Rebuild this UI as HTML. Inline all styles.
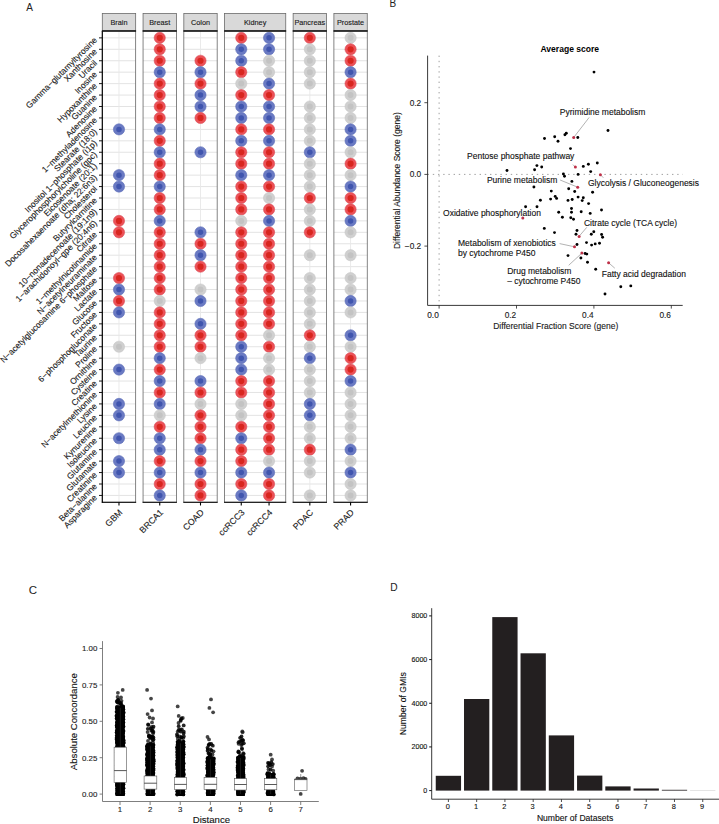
<!DOCTYPE html>
<html><head><meta charset="utf-8"><style>
html,body{margin:0;padding:0;background:#fff;width:719px;height:824px;overflow:hidden}
svg{display:block;font-family:"Liberation Sans", sans-serif}
</style></head><body>
<svg width="719" height="824" viewBox="0 0 719 824">
<rect width="719" height="824" fill="#fff"/>
<text x="26.30" y="10.80" font-size="10.0" text-anchor="start" font-weight="normal" fill="#222">A</text>
<text x="389.50" y="7.30" font-size="10.0" text-anchor="start" font-weight="normal" fill="#222">B</text>
<text x="28.80" y="593.80" font-size="11.5" text-anchor="start" font-weight="normal" fill="#222">C</text>
<text x="390.30" y="591.10" font-size="10.2" text-anchor="start" font-weight="normal" fill="#222">D</text>
<rect x="102.30" y="13.5" width="33.36" height="17.50" fill="#d9d9d9" stroke="#6a6a6a" stroke-width="0.8"/>
<text x="118.98" y="25.20" font-size="7.3" text-anchor="middle" font-weight="normal" fill="#1a1a1a" stroke="#1a1a1a" stroke-width="0.12">Brain</text>
<rect x="102.30" y="31.0" width="33.36" height="471.30" fill="#fff"/>
<line x1="102.30" y1="37.86" x2="135.66" y2="37.86" stroke="#e0e0e0" stroke-width="0.9"/>
<line x1="102.30" y1="49.30" x2="135.66" y2="49.30" stroke="#e0e0e0" stroke-width="0.9"/>
<line x1="102.30" y1="60.74" x2="135.66" y2="60.74" stroke="#e0e0e0" stroke-width="0.9"/>
<line x1="102.30" y1="72.18" x2="135.66" y2="72.18" stroke="#e0e0e0" stroke-width="0.9"/>
<line x1="102.30" y1="83.62" x2="135.66" y2="83.62" stroke="#e0e0e0" stroke-width="0.9"/>
<line x1="102.30" y1="95.06" x2="135.66" y2="95.06" stroke="#e0e0e0" stroke-width="0.9"/>
<line x1="102.30" y1="106.50" x2="135.66" y2="106.50" stroke="#e0e0e0" stroke-width="0.9"/>
<line x1="102.30" y1="117.94" x2="135.66" y2="117.94" stroke="#e0e0e0" stroke-width="0.9"/>
<line x1="102.30" y1="129.38" x2="135.66" y2="129.38" stroke="#e0e0e0" stroke-width="0.9"/>
<line x1="102.30" y1="140.82" x2="135.66" y2="140.82" stroke="#e0e0e0" stroke-width="0.9"/>
<line x1="102.30" y1="152.26" x2="135.66" y2="152.26" stroke="#e0e0e0" stroke-width="0.9"/>
<line x1="102.30" y1="163.70" x2="135.66" y2="163.70" stroke="#e0e0e0" stroke-width="0.9"/>
<line x1="102.30" y1="175.14" x2="135.66" y2="175.14" stroke="#e0e0e0" stroke-width="0.9"/>
<line x1="102.30" y1="186.57" x2="135.66" y2="186.57" stroke="#e0e0e0" stroke-width="0.9"/>
<line x1="102.30" y1="198.01" x2="135.66" y2="198.01" stroke="#e0e0e0" stroke-width="0.9"/>
<line x1="102.30" y1="209.45" x2="135.66" y2="209.45" stroke="#e0e0e0" stroke-width="0.9"/>
<line x1="102.30" y1="220.89" x2="135.66" y2="220.89" stroke="#e0e0e0" stroke-width="0.9"/>
<line x1="102.30" y1="232.33" x2="135.66" y2="232.33" stroke="#e0e0e0" stroke-width="0.9"/>
<line x1="102.30" y1="243.77" x2="135.66" y2="243.77" stroke="#e0e0e0" stroke-width="0.9"/>
<line x1="102.30" y1="255.21" x2="135.66" y2="255.21" stroke="#e0e0e0" stroke-width="0.9"/>
<line x1="102.30" y1="266.65" x2="135.66" y2="266.65" stroke="#e0e0e0" stroke-width="0.9"/>
<line x1="102.30" y1="278.09" x2="135.66" y2="278.09" stroke="#e0e0e0" stroke-width="0.9"/>
<line x1="102.30" y1="289.53" x2="135.66" y2="289.53" stroke="#e0e0e0" stroke-width="0.9"/>
<line x1="102.30" y1="300.97" x2="135.66" y2="300.97" stroke="#e0e0e0" stroke-width="0.9"/>
<line x1="102.30" y1="312.41" x2="135.66" y2="312.41" stroke="#e0e0e0" stroke-width="0.9"/>
<line x1="102.30" y1="323.85" x2="135.66" y2="323.85" stroke="#e0e0e0" stroke-width="0.9"/>
<line x1="102.30" y1="335.29" x2="135.66" y2="335.29" stroke="#e0e0e0" stroke-width="0.9"/>
<line x1="102.30" y1="346.73" x2="135.66" y2="346.73" stroke="#e0e0e0" stroke-width="0.9"/>
<line x1="102.30" y1="358.16" x2="135.66" y2="358.16" stroke="#e0e0e0" stroke-width="0.9"/>
<line x1="102.30" y1="369.60" x2="135.66" y2="369.60" stroke="#e0e0e0" stroke-width="0.9"/>
<line x1="102.30" y1="381.04" x2="135.66" y2="381.04" stroke="#e0e0e0" stroke-width="0.9"/>
<line x1="102.30" y1="392.48" x2="135.66" y2="392.48" stroke="#e0e0e0" stroke-width="0.9"/>
<line x1="102.30" y1="403.92" x2="135.66" y2="403.92" stroke="#e0e0e0" stroke-width="0.9"/>
<line x1="102.30" y1="415.36" x2="135.66" y2="415.36" stroke="#e0e0e0" stroke-width="0.9"/>
<line x1="102.30" y1="426.80" x2="135.66" y2="426.80" stroke="#e0e0e0" stroke-width="0.9"/>
<line x1="102.30" y1="438.24" x2="135.66" y2="438.24" stroke="#e0e0e0" stroke-width="0.9"/>
<line x1="102.30" y1="449.68" x2="135.66" y2="449.68" stroke="#e0e0e0" stroke-width="0.9"/>
<line x1="102.30" y1="461.12" x2="135.66" y2="461.12" stroke="#e0e0e0" stroke-width="0.9"/>
<line x1="102.30" y1="472.56" x2="135.66" y2="472.56" stroke="#e0e0e0" stroke-width="0.9"/>
<line x1="102.30" y1="484.00" x2="135.66" y2="484.00" stroke="#e0e0e0" stroke-width="0.9"/>
<line x1="102.30" y1="495.44" x2="135.66" y2="495.44" stroke="#e0e0e0" stroke-width="0.9"/>
<line x1="118.98" y1="31.0" x2="118.98" y2="502.3" stroke="#e8e8e8" stroke-width="0.9"/>
<rect x="143.06" y="13.5" width="33.36" height="17.50" fill="#d9d9d9" stroke="#6a6a6a" stroke-width="0.8"/>
<text x="159.74" y="25.20" font-size="7.3" text-anchor="middle" font-weight="normal" fill="#1a1a1a" stroke="#1a1a1a" stroke-width="0.12">Breast</text>
<rect x="143.06" y="31.0" width="33.36" height="471.30" fill="#fff"/>
<line x1="143.06" y1="37.86" x2="176.42" y2="37.86" stroke="#e0e0e0" stroke-width="0.9"/>
<line x1="143.06" y1="49.30" x2="176.42" y2="49.30" stroke="#e0e0e0" stroke-width="0.9"/>
<line x1="143.06" y1="60.74" x2="176.42" y2="60.74" stroke="#e0e0e0" stroke-width="0.9"/>
<line x1="143.06" y1="72.18" x2="176.42" y2="72.18" stroke="#e0e0e0" stroke-width="0.9"/>
<line x1="143.06" y1="83.62" x2="176.42" y2="83.62" stroke="#e0e0e0" stroke-width="0.9"/>
<line x1="143.06" y1="95.06" x2="176.42" y2="95.06" stroke="#e0e0e0" stroke-width="0.9"/>
<line x1="143.06" y1="106.50" x2="176.42" y2="106.50" stroke="#e0e0e0" stroke-width="0.9"/>
<line x1="143.06" y1="117.94" x2="176.42" y2="117.94" stroke="#e0e0e0" stroke-width="0.9"/>
<line x1="143.06" y1="129.38" x2="176.42" y2="129.38" stroke="#e0e0e0" stroke-width="0.9"/>
<line x1="143.06" y1="140.82" x2="176.42" y2="140.82" stroke="#e0e0e0" stroke-width="0.9"/>
<line x1="143.06" y1="152.26" x2="176.42" y2="152.26" stroke="#e0e0e0" stroke-width="0.9"/>
<line x1="143.06" y1="163.70" x2="176.42" y2="163.70" stroke="#e0e0e0" stroke-width="0.9"/>
<line x1="143.06" y1="175.14" x2="176.42" y2="175.14" stroke="#e0e0e0" stroke-width="0.9"/>
<line x1="143.06" y1="186.57" x2="176.42" y2="186.57" stroke="#e0e0e0" stroke-width="0.9"/>
<line x1="143.06" y1="198.01" x2="176.42" y2="198.01" stroke="#e0e0e0" stroke-width="0.9"/>
<line x1="143.06" y1="209.45" x2="176.42" y2="209.45" stroke="#e0e0e0" stroke-width="0.9"/>
<line x1="143.06" y1="220.89" x2="176.42" y2="220.89" stroke="#e0e0e0" stroke-width="0.9"/>
<line x1="143.06" y1="232.33" x2="176.42" y2="232.33" stroke="#e0e0e0" stroke-width="0.9"/>
<line x1="143.06" y1="243.77" x2="176.42" y2="243.77" stroke="#e0e0e0" stroke-width="0.9"/>
<line x1="143.06" y1="255.21" x2="176.42" y2="255.21" stroke="#e0e0e0" stroke-width="0.9"/>
<line x1="143.06" y1="266.65" x2="176.42" y2="266.65" stroke="#e0e0e0" stroke-width="0.9"/>
<line x1="143.06" y1="278.09" x2="176.42" y2="278.09" stroke="#e0e0e0" stroke-width="0.9"/>
<line x1="143.06" y1="289.53" x2="176.42" y2="289.53" stroke="#e0e0e0" stroke-width="0.9"/>
<line x1="143.06" y1="300.97" x2="176.42" y2="300.97" stroke="#e0e0e0" stroke-width="0.9"/>
<line x1="143.06" y1="312.41" x2="176.42" y2="312.41" stroke="#e0e0e0" stroke-width="0.9"/>
<line x1="143.06" y1="323.85" x2="176.42" y2="323.85" stroke="#e0e0e0" stroke-width="0.9"/>
<line x1="143.06" y1="335.29" x2="176.42" y2="335.29" stroke="#e0e0e0" stroke-width="0.9"/>
<line x1="143.06" y1="346.73" x2="176.42" y2="346.73" stroke="#e0e0e0" stroke-width="0.9"/>
<line x1="143.06" y1="358.16" x2="176.42" y2="358.16" stroke="#e0e0e0" stroke-width="0.9"/>
<line x1="143.06" y1="369.60" x2="176.42" y2="369.60" stroke="#e0e0e0" stroke-width="0.9"/>
<line x1="143.06" y1="381.04" x2="176.42" y2="381.04" stroke="#e0e0e0" stroke-width="0.9"/>
<line x1="143.06" y1="392.48" x2="176.42" y2="392.48" stroke="#e0e0e0" stroke-width="0.9"/>
<line x1="143.06" y1="403.92" x2="176.42" y2="403.92" stroke="#e0e0e0" stroke-width="0.9"/>
<line x1="143.06" y1="415.36" x2="176.42" y2="415.36" stroke="#e0e0e0" stroke-width="0.9"/>
<line x1="143.06" y1="426.80" x2="176.42" y2="426.80" stroke="#e0e0e0" stroke-width="0.9"/>
<line x1="143.06" y1="438.24" x2="176.42" y2="438.24" stroke="#e0e0e0" stroke-width="0.9"/>
<line x1="143.06" y1="449.68" x2="176.42" y2="449.68" stroke="#e0e0e0" stroke-width="0.9"/>
<line x1="143.06" y1="461.12" x2="176.42" y2="461.12" stroke="#e0e0e0" stroke-width="0.9"/>
<line x1="143.06" y1="472.56" x2="176.42" y2="472.56" stroke="#e0e0e0" stroke-width="0.9"/>
<line x1="143.06" y1="484.00" x2="176.42" y2="484.00" stroke="#e0e0e0" stroke-width="0.9"/>
<line x1="143.06" y1="495.44" x2="176.42" y2="495.44" stroke="#e0e0e0" stroke-width="0.9"/>
<line x1="159.74" y1="31.0" x2="159.74" y2="502.3" stroke="#e8e8e8" stroke-width="0.9"/>
<rect x="183.82" y="13.5" width="33.36" height="17.50" fill="#d9d9d9" stroke="#6a6a6a" stroke-width="0.8"/>
<text x="200.50" y="25.20" font-size="7.3" text-anchor="middle" font-weight="normal" fill="#1a1a1a" stroke="#1a1a1a" stroke-width="0.12">Colon</text>
<rect x="183.82" y="31.0" width="33.36" height="471.30" fill="#fff"/>
<line x1="183.82" y1="37.86" x2="217.18" y2="37.86" stroke="#e0e0e0" stroke-width="0.9"/>
<line x1="183.82" y1="49.30" x2="217.18" y2="49.30" stroke="#e0e0e0" stroke-width="0.9"/>
<line x1="183.82" y1="60.74" x2="217.18" y2="60.74" stroke="#e0e0e0" stroke-width="0.9"/>
<line x1="183.82" y1="72.18" x2="217.18" y2="72.18" stroke="#e0e0e0" stroke-width="0.9"/>
<line x1="183.82" y1="83.62" x2="217.18" y2="83.62" stroke="#e0e0e0" stroke-width="0.9"/>
<line x1="183.82" y1="95.06" x2="217.18" y2="95.06" stroke="#e0e0e0" stroke-width="0.9"/>
<line x1="183.82" y1="106.50" x2="217.18" y2="106.50" stroke="#e0e0e0" stroke-width="0.9"/>
<line x1="183.82" y1="117.94" x2="217.18" y2="117.94" stroke="#e0e0e0" stroke-width="0.9"/>
<line x1="183.82" y1="129.38" x2="217.18" y2="129.38" stroke="#e0e0e0" stroke-width="0.9"/>
<line x1="183.82" y1="140.82" x2="217.18" y2="140.82" stroke="#e0e0e0" stroke-width="0.9"/>
<line x1="183.82" y1="152.26" x2="217.18" y2="152.26" stroke="#e0e0e0" stroke-width="0.9"/>
<line x1="183.82" y1="163.70" x2="217.18" y2="163.70" stroke="#e0e0e0" stroke-width="0.9"/>
<line x1="183.82" y1="175.14" x2="217.18" y2="175.14" stroke="#e0e0e0" stroke-width="0.9"/>
<line x1="183.82" y1="186.57" x2="217.18" y2="186.57" stroke="#e0e0e0" stroke-width="0.9"/>
<line x1="183.82" y1="198.01" x2="217.18" y2="198.01" stroke="#e0e0e0" stroke-width="0.9"/>
<line x1="183.82" y1="209.45" x2="217.18" y2="209.45" stroke="#e0e0e0" stroke-width="0.9"/>
<line x1="183.82" y1="220.89" x2="217.18" y2="220.89" stroke="#e0e0e0" stroke-width="0.9"/>
<line x1="183.82" y1="232.33" x2="217.18" y2="232.33" stroke="#e0e0e0" stroke-width="0.9"/>
<line x1="183.82" y1="243.77" x2="217.18" y2="243.77" stroke="#e0e0e0" stroke-width="0.9"/>
<line x1="183.82" y1="255.21" x2="217.18" y2="255.21" stroke="#e0e0e0" stroke-width="0.9"/>
<line x1="183.82" y1="266.65" x2="217.18" y2="266.65" stroke="#e0e0e0" stroke-width="0.9"/>
<line x1="183.82" y1="278.09" x2="217.18" y2="278.09" stroke="#e0e0e0" stroke-width="0.9"/>
<line x1="183.82" y1="289.53" x2="217.18" y2="289.53" stroke="#e0e0e0" stroke-width="0.9"/>
<line x1="183.82" y1="300.97" x2="217.18" y2="300.97" stroke="#e0e0e0" stroke-width="0.9"/>
<line x1="183.82" y1="312.41" x2="217.18" y2="312.41" stroke="#e0e0e0" stroke-width="0.9"/>
<line x1="183.82" y1="323.85" x2="217.18" y2="323.85" stroke="#e0e0e0" stroke-width="0.9"/>
<line x1="183.82" y1="335.29" x2="217.18" y2="335.29" stroke="#e0e0e0" stroke-width="0.9"/>
<line x1="183.82" y1="346.73" x2="217.18" y2="346.73" stroke="#e0e0e0" stroke-width="0.9"/>
<line x1="183.82" y1="358.16" x2="217.18" y2="358.16" stroke="#e0e0e0" stroke-width="0.9"/>
<line x1="183.82" y1="369.60" x2="217.18" y2="369.60" stroke="#e0e0e0" stroke-width="0.9"/>
<line x1="183.82" y1="381.04" x2="217.18" y2="381.04" stroke="#e0e0e0" stroke-width="0.9"/>
<line x1="183.82" y1="392.48" x2="217.18" y2="392.48" stroke="#e0e0e0" stroke-width="0.9"/>
<line x1="183.82" y1="403.92" x2="217.18" y2="403.92" stroke="#e0e0e0" stroke-width="0.9"/>
<line x1="183.82" y1="415.36" x2="217.18" y2="415.36" stroke="#e0e0e0" stroke-width="0.9"/>
<line x1="183.82" y1="426.80" x2="217.18" y2="426.80" stroke="#e0e0e0" stroke-width="0.9"/>
<line x1="183.82" y1="438.24" x2="217.18" y2="438.24" stroke="#e0e0e0" stroke-width="0.9"/>
<line x1="183.82" y1="449.68" x2="217.18" y2="449.68" stroke="#e0e0e0" stroke-width="0.9"/>
<line x1="183.82" y1="461.12" x2="217.18" y2="461.12" stroke="#e0e0e0" stroke-width="0.9"/>
<line x1="183.82" y1="472.56" x2="217.18" y2="472.56" stroke="#e0e0e0" stroke-width="0.9"/>
<line x1="183.82" y1="484.00" x2="217.18" y2="484.00" stroke="#e0e0e0" stroke-width="0.9"/>
<line x1="183.82" y1="495.44" x2="217.18" y2="495.44" stroke="#e0e0e0" stroke-width="0.9"/>
<line x1="200.50" y1="31.0" x2="200.50" y2="502.3" stroke="#e8e8e8" stroke-width="0.9"/>
<rect x="224.58" y="13.5" width="61.16" height="17.50" fill="#d9d9d9" stroke="#6a6a6a" stroke-width="0.8"/>
<text x="255.16" y="25.20" font-size="7.3" text-anchor="middle" font-weight="normal" fill="#1a1a1a" stroke="#1a1a1a" stroke-width="0.12">Kidney</text>
<rect x="224.58" y="31.0" width="61.16" height="471.30" fill="#fff"/>
<line x1="224.58" y1="37.86" x2="285.74" y2="37.86" stroke="#e0e0e0" stroke-width="0.9"/>
<line x1="224.58" y1="49.30" x2="285.74" y2="49.30" stroke="#e0e0e0" stroke-width="0.9"/>
<line x1="224.58" y1="60.74" x2="285.74" y2="60.74" stroke="#e0e0e0" stroke-width="0.9"/>
<line x1="224.58" y1="72.18" x2="285.74" y2="72.18" stroke="#e0e0e0" stroke-width="0.9"/>
<line x1="224.58" y1="83.62" x2="285.74" y2="83.62" stroke="#e0e0e0" stroke-width="0.9"/>
<line x1="224.58" y1="95.06" x2="285.74" y2="95.06" stroke="#e0e0e0" stroke-width="0.9"/>
<line x1="224.58" y1="106.50" x2="285.74" y2="106.50" stroke="#e0e0e0" stroke-width="0.9"/>
<line x1="224.58" y1="117.94" x2="285.74" y2="117.94" stroke="#e0e0e0" stroke-width="0.9"/>
<line x1="224.58" y1="129.38" x2="285.74" y2="129.38" stroke="#e0e0e0" stroke-width="0.9"/>
<line x1="224.58" y1="140.82" x2="285.74" y2="140.82" stroke="#e0e0e0" stroke-width="0.9"/>
<line x1="224.58" y1="152.26" x2="285.74" y2="152.26" stroke="#e0e0e0" stroke-width="0.9"/>
<line x1="224.58" y1="163.70" x2="285.74" y2="163.70" stroke="#e0e0e0" stroke-width="0.9"/>
<line x1="224.58" y1="175.14" x2="285.74" y2="175.14" stroke="#e0e0e0" stroke-width="0.9"/>
<line x1="224.58" y1="186.57" x2="285.74" y2="186.57" stroke="#e0e0e0" stroke-width="0.9"/>
<line x1="224.58" y1="198.01" x2="285.74" y2="198.01" stroke="#e0e0e0" stroke-width="0.9"/>
<line x1="224.58" y1="209.45" x2="285.74" y2="209.45" stroke="#e0e0e0" stroke-width="0.9"/>
<line x1="224.58" y1="220.89" x2="285.74" y2="220.89" stroke="#e0e0e0" stroke-width="0.9"/>
<line x1="224.58" y1="232.33" x2="285.74" y2="232.33" stroke="#e0e0e0" stroke-width="0.9"/>
<line x1="224.58" y1="243.77" x2="285.74" y2="243.77" stroke="#e0e0e0" stroke-width="0.9"/>
<line x1="224.58" y1="255.21" x2="285.74" y2="255.21" stroke="#e0e0e0" stroke-width="0.9"/>
<line x1="224.58" y1="266.65" x2="285.74" y2="266.65" stroke="#e0e0e0" stroke-width="0.9"/>
<line x1="224.58" y1="278.09" x2="285.74" y2="278.09" stroke="#e0e0e0" stroke-width="0.9"/>
<line x1="224.58" y1="289.53" x2="285.74" y2="289.53" stroke="#e0e0e0" stroke-width="0.9"/>
<line x1="224.58" y1="300.97" x2="285.74" y2="300.97" stroke="#e0e0e0" stroke-width="0.9"/>
<line x1="224.58" y1="312.41" x2="285.74" y2="312.41" stroke="#e0e0e0" stroke-width="0.9"/>
<line x1="224.58" y1="323.85" x2="285.74" y2="323.85" stroke="#e0e0e0" stroke-width="0.9"/>
<line x1="224.58" y1="335.29" x2="285.74" y2="335.29" stroke="#e0e0e0" stroke-width="0.9"/>
<line x1="224.58" y1="346.73" x2="285.74" y2="346.73" stroke="#e0e0e0" stroke-width="0.9"/>
<line x1="224.58" y1="358.16" x2="285.74" y2="358.16" stroke="#e0e0e0" stroke-width="0.9"/>
<line x1="224.58" y1="369.60" x2="285.74" y2="369.60" stroke="#e0e0e0" stroke-width="0.9"/>
<line x1="224.58" y1="381.04" x2="285.74" y2="381.04" stroke="#e0e0e0" stroke-width="0.9"/>
<line x1="224.58" y1="392.48" x2="285.74" y2="392.48" stroke="#e0e0e0" stroke-width="0.9"/>
<line x1="224.58" y1="403.92" x2="285.74" y2="403.92" stroke="#e0e0e0" stroke-width="0.9"/>
<line x1="224.58" y1="415.36" x2="285.74" y2="415.36" stroke="#e0e0e0" stroke-width="0.9"/>
<line x1="224.58" y1="426.80" x2="285.74" y2="426.80" stroke="#e0e0e0" stroke-width="0.9"/>
<line x1="224.58" y1="438.24" x2="285.74" y2="438.24" stroke="#e0e0e0" stroke-width="0.9"/>
<line x1="224.58" y1="449.68" x2="285.74" y2="449.68" stroke="#e0e0e0" stroke-width="0.9"/>
<line x1="224.58" y1="461.12" x2="285.74" y2="461.12" stroke="#e0e0e0" stroke-width="0.9"/>
<line x1="224.58" y1="472.56" x2="285.74" y2="472.56" stroke="#e0e0e0" stroke-width="0.9"/>
<line x1="224.58" y1="484.00" x2="285.74" y2="484.00" stroke="#e0e0e0" stroke-width="0.9"/>
<line x1="224.58" y1="495.44" x2="285.74" y2="495.44" stroke="#e0e0e0" stroke-width="0.9"/>
<line x1="241.26" y1="31.0" x2="241.26" y2="502.3" stroke="#e8e8e8" stroke-width="0.9"/>
<line x1="269.06" y1="31.0" x2="269.06" y2="502.3" stroke="#e8e8e8" stroke-width="0.9"/>
<rect x="293.14" y="13.5" width="33.36" height="17.50" fill="#d9d9d9" stroke="#6a6a6a" stroke-width="0.8"/>
<text x="309.82" y="25.20" font-size="7.3" text-anchor="middle" font-weight="normal" fill="#1a1a1a" stroke="#1a1a1a" stroke-width="0.12">Pancreas</text>
<rect x="293.14" y="31.0" width="33.36" height="471.30" fill="#fff"/>
<line x1="293.14" y1="37.86" x2="326.50" y2="37.86" stroke="#e0e0e0" stroke-width="0.9"/>
<line x1="293.14" y1="49.30" x2="326.50" y2="49.30" stroke="#e0e0e0" stroke-width="0.9"/>
<line x1="293.14" y1="60.74" x2="326.50" y2="60.74" stroke="#e0e0e0" stroke-width="0.9"/>
<line x1="293.14" y1="72.18" x2="326.50" y2="72.18" stroke="#e0e0e0" stroke-width="0.9"/>
<line x1="293.14" y1="83.62" x2="326.50" y2="83.62" stroke="#e0e0e0" stroke-width="0.9"/>
<line x1="293.14" y1="95.06" x2="326.50" y2="95.06" stroke="#e0e0e0" stroke-width="0.9"/>
<line x1="293.14" y1="106.50" x2="326.50" y2="106.50" stroke="#e0e0e0" stroke-width="0.9"/>
<line x1="293.14" y1="117.94" x2="326.50" y2="117.94" stroke="#e0e0e0" stroke-width="0.9"/>
<line x1="293.14" y1="129.38" x2="326.50" y2="129.38" stroke="#e0e0e0" stroke-width="0.9"/>
<line x1="293.14" y1="140.82" x2="326.50" y2="140.82" stroke="#e0e0e0" stroke-width="0.9"/>
<line x1="293.14" y1="152.26" x2="326.50" y2="152.26" stroke="#e0e0e0" stroke-width="0.9"/>
<line x1="293.14" y1="163.70" x2="326.50" y2="163.70" stroke="#e0e0e0" stroke-width="0.9"/>
<line x1="293.14" y1="175.14" x2="326.50" y2="175.14" stroke="#e0e0e0" stroke-width="0.9"/>
<line x1="293.14" y1="186.57" x2="326.50" y2="186.57" stroke="#e0e0e0" stroke-width="0.9"/>
<line x1="293.14" y1="198.01" x2="326.50" y2="198.01" stroke="#e0e0e0" stroke-width="0.9"/>
<line x1="293.14" y1="209.45" x2="326.50" y2="209.45" stroke="#e0e0e0" stroke-width="0.9"/>
<line x1="293.14" y1="220.89" x2="326.50" y2="220.89" stroke="#e0e0e0" stroke-width="0.9"/>
<line x1="293.14" y1="232.33" x2="326.50" y2="232.33" stroke="#e0e0e0" stroke-width="0.9"/>
<line x1="293.14" y1="243.77" x2="326.50" y2="243.77" stroke="#e0e0e0" stroke-width="0.9"/>
<line x1="293.14" y1="255.21" x2="326.50" y2="255.21" stroke="#e0e0e0" stroke-width="0.9"/>
<line x1="293.14" y1="266.65" x2="326.50" y2="266.65" stroke="#e0e0e0" stroke-width="0.9"/>
<line x1="293.14" y1="278.09" x2="326.50" y2="278.09" stroke="#e0e0e0" stroke-width="0.9"/>
<line x1="293.14" y1="289.53" x2="326.50" y2="289.53" stroke="#e0e0e0" stroke-width="0.9"/>
<line x1="293.14" y1="300.97" x2="326.50" y2="300.97" stroke="#e0e0e0" stroke-width="0.9"/>
<line x1="293.14" y1="312.41" x2="326.50" y2="312.41" stroke="#e0e0e0" stroke-width="0.9"/>
<line x1="293.14" y1="323.85" x2="326.50" y2="323.85" stroke="#e0e0e0" stroke-width="0.9"/>
<line x1="293.14" y1="335.29" x2="326.50" y2="335.29" stroke="#e0e0e0" stroke-width="0.9"/>
<line x1="293.14" y1="346.73" x2="326.50" y2="346.73" stroke="#e0e0e0" stroke-width="0.9"/>
<line x1="293.14" y1="358.16" x2="326.50" y2="358.16" stroke="#e0e0e0" stroke-width="0.9"/>
<line x1="293.14" y1="369.60" x2="326.50" y2="369.60" stroke="#e0e0e0" stroke-width="0.9"/>
<line x1="293.14" y1="381.04" x2="326.50" y2="381.04" stroke="#e0e0e0" stroke-width="0.9"/>
<line x1="293.14" y1="392.48" x2="326.50" y2="392.48" stroke="#e0e0e0" stroke-width="0.9"/>
<line x1="293.14" y1="403.92" x2="326.50" y2="403.92" stroke="#e0e0e0" stroke-width="0.9"/>
<line x1="293.14" y1="415.36" x2="326.50" y2="415.36" stroke="#e0e0e0" stroke-width="0.9"/>
<line x1="293.14" y1="426.80" x2="326.50" y2="426.80" stroke="#e0e0e0" stroke-width="0.9"/>
<line x1="293.14" y1="438.24" x2="326.50" y2="438.24" stroke="#e0e0e0" stroke-width="0.9"/>
<line x1="293.14" y1="449.68" x2="326.50" y2="449.68" stroke="#e0e0e0" stroke-width="0.9"/>
<line x1="293.14" y1="461.12" x2="326.50" y2="461.12" stroke="#e0e0e0" stroke-width="0.9"/>
<line x1="293.14" y1="472.56" x2="326.50" y2="472.56" stroke="#e0e0e0" stroke-width="0.9"/>
<line x1="293.14" y1="484.00" x2="326.50" y2="484.00" stroke="#e0e0e0" stroke-width="0.9"/>
<line x1="293.14" y1="495.44" x2="326.50" y2="495.44" stroke="#e0e0e0" stroke-width="0.9"/>
<line x1="309.82" y1="31.0" x2="309.82" y2="502.3" stroke="#e8e8e8" stroke-width="0.9"/>
<rect x="333.90" y="13.5" width="33.36" height="17.50" fill="#d9d9d9" stroke="#6a6a6a" stroke-width="0.8"/>
<text x="350.58" y="25.20" font-size="7.3" text-anchor="middle" font-weight="normal" fill="#1a1a1a" stroke="#1a1a1a" stroke-width="0.12">Prostate</text>
<rect x="333.90" y="31.0" width="33.36" height="471.30" fill="#fff"/>
<line x1="333.90" y1="37.86" x2="367.26" y2="37.86" stroke="#e0e0e0" stroke-width="0.9"/>
<line x1="333.90" y1="49.30" x2="367.26" y2="49.30" stroke="#e0e0e0" stroke-width="0.9"/>
<line x1="333.90" y1="60.74" x2="367.26" y2="60.74" stroke="#e0e0e0" stroke-width="0.9"/>
<line x1="333.90" y1="72.18" x2="367.26" y2="72.18" stroke="#e0e0e0" stroke-width="0.9"/>
<line x1="333.90" y1="83.62" x2="367.26" y2="83.62" stroke="#e0e0e0" stroke-width="0.9"/>
<line x1="333.90" y1="95.06" x2="367.26" y2="95.06" stroke="#e0e0e0" stroke-width="0.9"/>
<line x1="333.90" y1="106.50" x2="367.26" y2="106.50" stroke="#e0e0e0" stroke-width="0.9"/>
<line x1="333.90" y1="117.94" x2="367.26" y2="117.94" stroke="#e0e0e0" stroke-width="0.9"/>
<line x1="333.90" y1="129.38" x2="367.26" y2="129.38" stroke="#e0e0e0" stroke-width="0.9"/>
<line x1="333.90" y1="140.82" x2="367.26" y2="140.82" stroke="#e0e0e0" stroke-width="0.9"/>
<line x1="333.90" y1="152.26" x2="367.26" y2="152.26" stroke="#e0e0e0" stroke-width="0.9"/>
<line x1="333.90" y1="163.70" x2="367.26" y2="163.70" stroke="#e0e0e0" stroke-width="0.9"/>
<line x1="333.90" y1="175.14" x2="367.26" y2="175.14" stroke="#e0e0e0" stroke-width="0.9"/>
<line x1="333.90" y1="186.57" x2="367.26" y2="186.57" stroke="#e0e0e0" stroke-width="0.9"/>
<line x1="333.90" y1="198.01" x2="367.26" y2="198.01" stroke="#e0e0e0" stroke-width="0.9"/>
<line x1="333.90" y1="209.45" x2="367.26" y2="209.45" stroke="#e0e0e0" stroke-width="0.9"/>
<line x1="333.90" y1="220.89" x2="367.26" y2="220.89" stroke="#e0e0e0" stroke-width="0.9"/>
<line x1="333.90" y1="232.33" x2="367.26" y2="232.33" stroke="#e0e0e0" stroke-width="0.9"/>
<line x1="333.90" y1="243.77" x2="367.26" y2="243.77" stroke="#e0e0e0" stroke-width="0.9"/>
<line x1="333.90" y1="255.21" x2="367.26" y2="255.21" stroke="#e0e0e0" stroke-width="0.9"/>
<line x1="333.90" y1="266.65" x2="367.26" y2="266.65" stroke="#e0e0e0" stroke-width="0.9"/>
<line x1="333.90" y1="278.09" x2="367.26" y2="278.09" stroke="#e0e0e0" stroke-width="0.9"/>
<line x1="333.90" y1="289.53" x2="367.26" y2="289.53" stroke="#e0e0e0" stroke-width="0.9"/>
<line x1="333.90" y1="300.97" x2="367.26" y2="300.97" stroke="#e0e0e0" stroke-width="0.9"/>
<line x1="333.90" y1="312.41" x2="367.26" y2="312.41" stroke="#e0e0e0" stroke-width="0.9"/>
<line x1="333.90" y1="323.85" x2="367.26" y2="323.85" stroke="#e0e0e0" stroke-width="0.9"/>
<line x1="333.90" y1="335.29" x2="367.26" y2="335.29" stroke="#e0e0e0" stroke-width="0.9"/>
<line x1="333.90" y1="346.73" x2="367.26" y2="346.73" stroke="#e0e0e0" stroke-width="0.9"/>
<line x1="333.90" y1="358.16" x2="367.26" y2="358.16" stroke="#e0e0e0" stroke-width="0.9"/>
<line x1="333.90" y1="369.60" x2="367.26" y2="369.60" stroke="#e0e0e0" stroke-width="0.9"/>
<line x1="333.90" y1="381.04" x2="367.26" y2="381.04" stroke="#e0e0e0" stroke-width="0.9"/>
<line x1="333.90" y1="392.48" x2="367.26" y2="392.48" stroke="#e0e0e0" stroke-width="0.9"/>
<line x1="333.90" y1="403.92" x2="367.26" y2="403.92" stroke="#e0e0e0" stroke-width="0.9"/>
<line x1="333.90" y1="415.36" x2="367.26" y2="415.36" stroke="#e0e0e0" stroke-width="0.9"/>
<line x1="333.90" y1="426.80" x2="367.26" y2="426.80" stroke="#e0e0e0" stroke-width="0.9"/>
<line x1="333.90" y1="438.24" x2="367.26" y2="438.24" stroke="#e0e0e0" stroke-width="0.9"/>
<line x1="333.90" y1="449.68" x2="367.26" y2="449.68" stroke="#e0e0e0" stroke-width="0.9"/>
<line x1="333.90" y1="461.12" x2="367.26" y2="461.12" stroke="#e0e0e0" stroke-width="0.9"/>
<line x1="333.90" y1="472.56" x2="367.26" y2="472.56" stroke="#e0e0e0" stroke-width="0.9"/>
<line x1="333.90" y1="484.00" x2="367.26" y2="484.00" stroke="#e0e0e0" stroke-width="0.9"/>
<line x1="333.90" y1="495.44" x2="367.26" y2="495.44" stroke="#e0e0e0" stroke-width="0.9"/>
<line x1="350.58" y1="31.0" x2="350.58" y2="502.3" stroke="#e8e8e8" stroke-width="0.9"/>
<circle cx="159.74" cy="37.86" r="5.6" fill="#ec5157" stroke="#d9505a" stroke-width="0.6"/>
<circle cx="159.74" cy="37.86" r="3.1" fill="#d8261f"/>
<circle cx="241.26" cy="37.86" r="5.6" fill="#ec5157" stroke="#d9505a" stroke-width="0.6"/>
<circle cx="241.26" cy="37.86" r="3.1" fill="#d8261f"/>
<circle cx="269.06" cy="37.86" r="5.6" fill="#6a7ac3" stroke="#5e6eb8" stroke-width="0.6"/>
<circle cx="269.06" cy="37.86" r="2.75" fill="#4055ae"/>
<circle cx="309.82" cy="37.86" r="5.6" fill="#ec5157" stroke="#d9505a" stroke-width="0.6"/>
<circle cx="309.82" cy="37.86" r="3.1" fill="#d8261f"/>
<circle cx="350.58" cy="37.86" r="5.6" fill="#d0d0d0" stroke="#c8c8c8" stroke-width="0.6"/>
<circle cx="350.58" cy="37.86" r="3.0" fill="#c3c3c3"/>
<circle cx="159.74" cy="49.30" r="5.6" fill="#ec5157" stroke="#d9505a" stroke-width="0.6"/>
<circle cx="159.74" cy="49.30" r="3.1" fill="#d8261f"/>
<circle cx="241.26" cy="49.30" r="5.6" fill="#6a7ac3" stroke="#5e6eb8" stroke-width="0.6"/>
<circle cx="241.26" cy="49.30" r="2.75" fill="#4055ae"/>
<circle cx="269.06" cy="49.30" r="5.6" fill="#6a7ac3" stroke="#5e6eb8" stroke-width="0.6"/>
<circle cx="269.06" cy="49.30" r="2.75" fill="#4055ae"/>
<circle cx="309.82" cy="49.30" r="5.6" fill="#d0d0d0" stroke="#c8c8c8" stroke-width="0.6"/>
<circle cx="309.82" cy="49.30" r="3.0" fill="#c3c3c3"/>
<circle cx="350.58" cy="49.30" r="5.6" fill="#ec5157" stroke="#d9505a" stroke-width="0.6"/>
<circle cx="350.58" cy="49.30" r="3.1" fill="#d8261f"/>
<circle cx="159.74" cy="60.74" r="5.6" fill="#ec5157" stroke="#d9505a" stroke-width="0.6"/>
<circle cx="159.74" cy="60.74" r="3.1" fill="#d8261f"/>
<circle cx="200.50" cy="60.74" r="5.6" fill="#ec5157" stroke="#d9505a" stroke-width="0.6"/>
<circle cx="200.50" cy="60.74" r="3.1" fill="#d8261f"/>
<circle cx="241.26" cy="60.74" r="5.6" fill="#6a7ac3" stroke="#5e6eb8" stroke-width="0.6"/>
<circle cx="241.26" cy="60.74" r="2.75" fill="#4055ae"/>
<circle cx="269.06" cy="60.74" r="5.6" fill="#d0d0d0" stroke="#c8c8c8" stroke-width="0.6"/>
<circle cx="269.06" cy="60.74" r="3.0" fill="#c3c3c3"/>
<circle cx="309.82" cy="60.74" r="5.6" fill="#d0d0d0" stroke="#c8c8c8" stroke-width="0.6"/>
<circle cx="309.82" cy="60.74" r="3.0" fill="#c3c3c3"/>
<circle cx="350.58" cy="60.74" r="5.6" fill="#ec5157" stroke="#d9505a" stroke-width="0.6"/>
<circle cx="350.58" cy="60.74" r="3.1" fill="#d8261f"/>
<circle cx="159.74" cy="72.18" r="5.6" fill="#6a7ac3" stroke="#5e6eb8" stroke-width="0.6"/>
<circle cx="159.74" cy="72.18" r="2.75" fill="#4055ae"/>
<circle cx="200.50" cy="72.18" r="5.6" fill="#6a7ac3" stroke="#5e6eb8" stroke-width="0.6"/>
<circle cx="200.50" cy="72.18" r="2.75" fill="#4055ae"/>
<circle cx="241.26" cy="72.18" r="5.6" fill="#ec5157" stroke="#d9505a" stroke-width="0.6"/>
<circle cx="241.26" cy="72.18" r="3.1" fill="#d8261f"/>
<circle cx="269.06" cy="72.18" r="5.6" fill="#d0d0d0" stroke="#c8c8c8" stroke-width="0.6"/>
<circle cx="269.06" cy="72.18" r="3.0" fill="#c3c3c3"/>
<circle cx="309.82" cy="72.18" r="5.6" fill="#d0d0d0" stroke="#c8c8c8" stroke-width="0.6"/>
<circle cx="309.82" cy="72.18" r="3.0" fill="#c3c3c3"/>
<circle cx="350.58" cy="72.18" r="5.6" fill="#6a7ac3" stroke="#5e6eb8" stroke-width="0.6"/>
<circle cx="350.58" cy="72.18" r="2.75" fill="#4055ae"/>
<circle cx="159.74" cy="83.62" r="5.6" fill="#ec5157" stroke="#d9505a" stroke-width="0.6"/>
<circle cx="159.74" cy="83.62" r="3.1" fill="#d8261f"/>
<circle cx="200.50" cy="83.62" r="5.6" fill="#ec5157" stroke="#d9505a" stroke-width="0.6"/>
<circle cx="200.50" cy="83.62" r="3.1" fill="#d8261f"/>
<circle cx="241.26" cy="83.62" r="5.6" fill="#d0d0d0" stroke="#c8c8c8" stroke-width="0.6"/>
<circle cx="241.26" cy="83.62" r="3.0" fill="#c3c3c3"/>
<circle cx="269.06" cy="83.62" r="5.6" fill="#6a7ac3" stroke="#5e6eb8" stroke-width="0.6"/>
<circle cx="269.06" cy="83.62" r="2.75" fill="#4055ae"/>
<circle cx="309.82" cy="83.62" r="5.6" fill="#d0d0d0" stroke="#c8c8c8" stroke-width="0.6"/>
<circle cx="309.82" cy="83.62" r="3.0" fill="#c3c3c3"/>
<circle cx="350.58" cy="83.62" r="5.6" fill="#ec5157" stroke="#d9505a" stroke-width="0.6"/>
<circle cx="350.58" cy="83.62" r="3.1" fill="#d8261f"/>
<circle cx="159.74" cy="95.06" r="5.6" fill="#ec5157" stroke="#d9505a" stroke-width="0.6"/>
<circle cx="159.74" cy="95.06" r="3.1" fill="#d8261f"/>
<circle cx="200.50" cy="95.06" r="5.6" fill="#6a7ac3" stroke="#5e6eb8" stroke-width="0.6"/>
<circle cx="200.50" cy="95.06" r="2.75" fill="#4055ae"/>
<circle cx="241.26" cy="95.06" r="5.6" fill="#ec5157" stroke="#d9505a" stroke-width="0.6"/>
<circle cx="241.26" cy="95.06" r="3.1" fill="#d8261f"/>
<circle cx="269.06" cy="95.06" r="5.6" fill="#ec5157" stroke="#d9505a" stroke-width="0.6"/>
<circle cx="269.06" cy="95.06" r="3.1" fill="#d8261f"/>
<circle cx="350.58" cy="95.06" r="5.6" fill="#d0d0d0" stroke="#c8c8c8" stroke-width="0.6"/>
<circle cx="350.58" cy="95.06" r="3.0" fill="#c3c3c3"/>
<circle cx="159.74" cy="106.50" r="5.6" fill="#ec5157" stroke="#d9505a" stroke-width="0.6"/>
<circle cx="159.74" cy="106.50" r="3.1" fill="#d8261f"/>
<circle cx="200.50" cy="106.50" r="5.6" fill="#6a7ac3" stroke="#5e6eb8" stroke-width="0.6"/>
<circle cx="200.50" cy="106.50" r="2.75" fill="#4055ae"/>
<circle cx="241.26" cy="106.50" r="5.6" fill="#6a7ac3" stroke="#5e6eb8" stroke-width="0.6"/>
<circle cx="241.26" cy="106.50" r="2.75" fill="#4055ae"/>
<circle cx="269.06" cy="106.50" r="5.6" fill="#6a7ac3" stroke="#5e6eb8" stroke-width="0.6"/>
<circle cx="269.06" cy="106.50" r="2.75" fill="#4055ae"/>
<circle cx="309.82" cy="106.50" r="5.6" fill="#d0d0d0" stroke="#c8c8c8" stroke-width="0.6"/>
<circle cx="309.82" cy="106.50" r="3.0" fill="#c3c3c3"/>
<circle cx="350.58" cy="106.50" r="5.6" fill="#d0d0d0" stroke="#c8c8c8" stroke-width="0.6"/>
<circle cx="350.58" cy="106.50" r="3.0" fill="#c3c3c3"/>
<circle cx="159.74" cy="117.94" r="5.6" fill="#ec5157" stroke="#d9505a" stroke-width="0.6"/>
<circle cx="159.74" cy="117.94" r="3.1" fill="#d8261f"/>
<circle cx="200.50" cy="117.94" r="5.6" fill="#ec5157" stroke="#d9505a" stroke-width="0.6"/>
<circle cx="200.50" cy="117.94" r="3.1" fill="#d8261f"/>
<circle cx="241.26" cy="117.94" r="5.6" fill="#6a7ac3" stroke="#5e6eb8" stroke-width="0.6"/>
<circle cx="241.26" cy="117.94" r="2.75" fill="#4055ae"/>
<circle cx="269.06" cy="117.94" r="5.6" fill="#6a7ac3" stroke="#5e6eb8" stroke-width="0.6"/>
<circle cx="269.06" cy="117.94" r="2.75" fill="#4055ae"/>
<circle cx="309.82" cy="117.94" r="5.6" fill="#d0d0d0" stroke="#c8c8c8" stroke-width="0.6"/>
<circle cx="309.82" cy="117.94" r="3.0" fill="#c3c3c3"/>
<circle cx="350.58" cy="117.94" r="5.6" fill="#d0d0d0" stroke="#c8c8c8" stroke-width="0.6"/>
<circle cx="350.58" cy="117.94" r="3.0" fill="#c3c3c3"/>
<circle cx="118.98" cy="129.38" r="5.6" fill="#6a7ac3" stroke="#5e6eb8" stroke-width="0.6"/>
<circle cx="118.98" cy="129.38" r="2.75" fill="#4055ae"/>
<circle cx="159.74" cy="129.38" r="5.6" fill="#6a7ac3" stroke="#5e6eb8" stroke-width="0.6"/>
<circle cx="159.74" cy="129.38" r="2.75" fill="#4055ae"/>
<circle cx="241.26" cy="129.38" r="5.6" fill="#ec5157" stroke="#d9505a" stroke-width="0.6"/>
<circle cx="241.26" cy="129.38" r="3.1" fill="#d8261f"/>
<circle cx="269.06" cy="129.38" r="5.6" fill="#ec5157" stroke="#d9505a" stroke-width="0.6"/>
<circle cx="269.06" cy="129.38" r="3.1" fill="#d8261f"/>
<circle cx="309.82" cy="129.38" r="5.6" fill="#d0d0d0" stroke="#c8c8c8" stroke-width="0.6"/>
<circle cx="309.82" cy="129.38" r="3.0" fill="#c3c3c3"/>
<circle cx="350.58" cy="129.38" r="5.6" fill="#6a7ac3" stroke="#5e6eb8" stroke-width="0.6"/>
<circle cx="350.58" cy="129.38" r="2.75" fill="#4055ae"/>
<circle cx="159.74" cy="140.82" r="5.6" fill="#ec5157" stroke="#d9505a" stroke-width="0.6"/>
<circle cx="159.74" cy="140.82" r="3.1" fill="#d8261f"/>
<circle cx="241.26" cy="140.82" r="5.6" fill="#6a7ac3" stroke="#5e6eb8" stroke-width="0.6"/>
<circle cx="241.26" cy="140.82" r="2.75" fill="#4055ae"/>
<circle cx="269.06" cy="140.82" r="5.6" fill="#6a7ac3" stroke="#5e6eb8" stroke-width="0.6"/>
<circle cx="269.06" cy="140.82" r="2.75" fill="#4055ae"/>
<circle cx="309.82" cy="140.82" r="5.6" fill="#d0d0d0" stroke="#c8c8c8" stroke-width="0.6"/>
<circle cx="309.82" cy="140.82" r="3.0" fill="#c3c3c3"/>
<circle cx="350.58" cy="140.82" r="5.6" fill="#6a7ac3" stroke="#5e6eb8" stroke-width="0.6"/>
<circle cx="350.58" cy="140.82" r="2.75" fill="#4055ae"/>
<circle cx="159.74" cy="152.26" r="5.6" fill="#6a7ac3" stroke="#5e6eb8" stroke-width="0.6"/>
<circle cx="159.74" cy="152.26" r="2.75" fill="#4055ae"/>
<circle cx="200.50" cy="152.26" r="5.6" fill="#6a7ac3" stroke="#5e6eb8" stroke-width="0.6"/>
<circle cx="200.50" cy="152.26" r="2.75" fill="#4055ae"/>
<circle cx="241.26" cy="152.26" r="5.6" fill="#ec5157" stroke="#d9505a" stroke-width="0.6"/>
<circle cx="241.26" cy="152.26" r="3.1" fill="#d8261f"/>
<circle cx="269.06" cy="152.26" r="5.6" fill="#ec5157" stroke="#d9505a" stroke-width="0.6"/>
<circle cx="269.06" cy="152.26" r="3.1" fill="#d8261f"/>
<circle cx="309.82" cy="152.26" r="5.6" fill="#6a7ac3" stroke="#5e6eb8" stroke-width="0.6"/>
<circle cx="309.82" cy="152.26" r="2.75" fill="#4055ae"/>
<circle cx="350.58" cy="152.26" r="5.6" fill="#d0d0d0" stroke="#c8c8c8" stroke-width="0.6"/>
<circle cx="350.58" cy="152.26" r="3.0" fill="#c3c3c3"/>
<circle cx="159.74" cy="163.70" r="5.6" fill="#ec5157" stroke="#d9505a" stroke-width="0.6"/>
<circle cx="159.74" cy="163.70" r="3.1" fill="#d8261f"/>
<circle cx="241.26" cy="163.70" r="5.6" fill="#ec5157" stroke="#d9505a" stroke-width="0.6"/>
<circle cx="241.26" cy="163.70" r="3.1" fill="#d8261f"/>
<circle cx="269.06" cy="163.70" r="5.6" fill="#ec5157" stroke="#d9505a" stroke-width="0.6"/>
<circle cx="269.06" cy="163.70" r="3.1" fill="#d8261f"/>
<circle cx="309.82" cy="163.70" r="5.6" fill="#d0d0d0" stroke="#c8c8c8" stroke-width="0.6"/>
<circle cx="309.82" cy="163.70" r="3.0" fill="#c3c3c3"/>
<circle cx="350.58" cy="163.70" r="5.6" fill="#ec5157" stroke="#d9505a" stroke-width="0.6"/>
<circle cx="350.58" cy="163.70" r="3.1" fill="#d8261f"/>
<circle cx="118.98" cy="175.14" r="5.6" fill="#6a7ac3" stroke="#5e6eb8" stroke-width="0.6"/>
<circle cx="118.98" cy="175.14" r="2.75" fill="#4055ae"/>
<circle cx="159.74" cy="175.14" r="5.6" fill="#ec5157" stroke="#d9505a" stroke-width="0.6"/>
<circle cx="159.74" cy="175.14" r="3.1" fill="#d8261f"/>
<circle cx="241.26" cy="175.14" r="5.6" fill="#6a7ac3" stroke="#5e6eb8" stroke-width="0.6"/>
<circle cx="241.26" cy="175.14" r="2.75" fill="#4055ae"/>
<circle cx="269.06" cy="175.14" r="5.6" fill="#6a7ac3" stroke="#5e6eb8" stroke-width="0.6"/>
<circle cx="269.06" cy="175.14" r="2.75" fill="#4055ae"/>
<circle cx="309.82" cy="175.14" r="5.6" fill="#d0d0d0" stroke="#c8c8c8" stroke-width="0.6"/>
<circle cx="309.82" cy="175.14" r="3.0" fill="#c3c3c3"/>
<circle cx="350.58" cy="175.14" r="5.6" fill="#d0d0d0" stroke="#c8c8c8" stroke-width="0.6"/>
<circle cx="350.58" cy="175.14" r="3.0" fill="#c3c3c3"/>
<circle cx="118.98" cy="186.57" r="5.6" fill="#6a7ac3" stroke="#5e6eb8" stroke-width="0.6"/>
<circle cx="118.98" cy="186.57" r="2.75" fill="#4055ae"/>
<circle cx="159.74" cy="186.57" r="5.6" fill="#6a7ac3" stroke="#5e6eb8" stroke-width="0.6"/>
<circle cx="159.74" cy="186.57" r="2.75" fill="#4055ae"/>
<circle cx="241.26" cy="186.57" r="5.6" fill="#ec5157" stroke="#d9505a" stroke-width="0.6"/>
<circle cx="241.26" cy="186.57" r="3.1" fill="#d8261f"/>
<circle cx="269.06" cy="186.57" r="5.6" fill="#ec5157" stroke="#d9505a" stroke-width="0.6"/>
<circle cx="269.06" cy="186.57" r="3.1" fill="#d8261f"/>
<circle cx="309.82" cy="186.57" r="5.6" fill="#d0d0d0" stroke="#c8c8c8" stroke-width="0.6"/>
<circle cx="309.82" cy="186.57" r="3.0" fill="#c3c3c3"/>
<circle cx="350.58" cy="186.57" r="5.6" fill="#6a7ac3" stroke="#5e6eb8" stroke-width="0.6"/>
<circle cx="350.58" cy="186.57" r="2.75" fill="#4055ae"/>
<circle cx="159.74" cy="198.01" r="5.6" fill="#ec5157" stroke="#d9505a" stroke-width="0.6"/>
<circle cx="159.74" cy="198.01" r="3.1" fill="#d8261f"/>
<circle cx="241.26" cy="198.01" r="5.6" fill="#ec5157" stroke="#d9505a" stroke-width="0.6"/>
<circle cx="241.26" cy="198.01" r="3.1" fill="#d8261f"/>
<circle cx="269.06" cy="198.01" r="5.6" fill="#d0d0d0" stroke="#c8c8c8" stroke-width="0.6"/>
<circle cx="269.06" cy="198.01" r="3.0" fill="#c3c3c3"/>
<circle cx="309.82" cy="198.01" r="5.6" fill="#ec5157" stroke="#d9505a" stroke-width="0.6"/>
<circle cx="309.82" cy="198.01" r="3.1" fill="#d8261f"/>
<circle cx="350.58" cy="198.01" r="5.6" fill="#ec5157" stroke="#d9505a" stroke-width="0.6"/>
<circle cx="350.58" cy="198.01" r="3.1" fill="#d8261f"/>
<circle cx="159.74" cy="209.45" r="5.6" fill="#ec5157" stroke="#d9505a" stroke-width="0.6"/>
<circle cx="159.74" cy="209.45" r="3.1" fill="#d8261f"/>
<circle cx="241.26" cy="209.45" r="5.6" fill="#ec5157" stroke="#d9505a" stroke-width="0.6"/>
<circle cx="241.26" cy="209.45" r="3.1" fill="#d8261f"/>
<circle cx="269.06" cy="209.45" r="5.6" fill="#ec5157" stroke="#d9505a" stroke-width="0.6"/>
<circle cx="269.06" cy="209.45" r="3.1" fill="#d8261f"/>
<circle cx="309.82" cy="209.45" r="5.6" fill="#d0d0d0" stroke="#c8c8c8" stroke-width="0.6"/>
<circle cx="309.82" cy="209.45" r="3.0" fill="#c3c3c3"/>
<circle cx="350.58" cy="209.45" r="5.6" fill="#ec5157" stroke="#d9505a" stroke-width="0.6"/>
<circle cx="350.58" cy="209.45" r="3.1" fill="#d8261f"/>
<circle cx="118.98" cy="220.89" r="5.6" fill="#ec5157" stroke="#d9505a" stroke-width="0.6"/>
<circle cx="118.98" cy="220.89" r="3.1" fill="#d8261f"/>
<circle cx="159.74" cy="220.89" r="5.6" fill="#6a7ac3" stroke="#5e6eb8" stroke-width="0.6"/>
<circle cx="159.74" cy="220.89" r="2.75" fill="#4055ae"/>
<circle cx="241.26" cy="220.89" r="5.6" fill="#d0d0d0" stroke="#c8c8c8" stroke-width="0.6"/>
<circle cx="241.26" cy="220.89" r="3.0" fill="#c3c3c3"/>
<circle cx="269.06" cy="220.89" r="5.6" fill="#6a7ac3" stroke="#5e6eb8" stroke-width="0.6"/>
<circle cx="269.06" cy="220.89" r="2.75" fill="#4055ae"/>
<circle cx="309.82" cy="220.89" r="5.6" fill="#d0d0d0" stroke="#c8c8c8" stroke-width="0.6"/>
<circle cx="309.82" cy="220.89" r="3.0" fill="#c3c3c3"/>
<circle cx="350.58" cy="220.89" r="5.6" fill="#6a7ac3" stroke="#5e6eb8" stroke-width="0.6"/>
<circle cx="350.58" cy="220.89" r="2.75" fill="#4055ae"/>
<circle cx="118.98" cy="232.33" r="5.6" fill="#ec5157" stroke="#d9505a" stroke-width="0.6"/>
<circle cx="118.98" cy="232.33" r="3.1" fill="#d8261f"/>
<circle cx="159.74" cy="232.33" r="5.6" fill="#ec5157" stroke="#d9505a" stroke-width="0.6"/>
<circle cx="159.74" cy="232.33" r="3.1" fill="#d8261f"/>
<circle cx="200.50" cy="232.33" r="5.6" fill="#6a7ac3" stroke="#5e6eb8" stroke-width="0.6"/>
<circle cx="200.50" cy="232.33" r="2.75" fill="#4055ae"/>
<circle cx="241.26" cy="232.33" r="5.6" fill="#ec5157" stroke="#d9505a" stroke-width="0.6"/>
<circle cx="241.26" cy="232.33" r="3.1" fill="#d8261f"/>
<circle cx="269.06" cy="232.33" r="5.6" fill="#ec5157" stroke="#d9505a" stroke-width="0.6"/>
<circle cx="269.06" cy="232.33" r="3.1" fill="#d8261f"/>
<circle cx="309.82" cy="232.33" r="5.6" fill="#ec5157" stroke="#d9505a" stroke-width="0.6"/>
<circle cx="309.82" cy="232.33" r="3.1" fill="#d8261f"/>
<circle cx="350.58" cy="232.33" r="5.6" fill="#d0d0d0" stroke="#c8c8c8" stroke-width="0.6"/>
<circle cx="350.58" cy="232.33" r="3.0" fill="#c3c3c3"/>
<circle cx="159.74" cy="243.77" r="5.6" fill="#ec5157" stroke="#d9505a" stroke-width="0.6"/>
<circle cx="159.74" cy="243.77" r="3.1" fill="#d8261f"/>
<circle cx="200.50" cy="243.77" r="5.6" fill="#ec5157" stroke="#d9505a" stroke-width="0.6"/>
<circle cx="200.50" cy="243.77" r="3.1" fill="#d8261f"/>
<circle cx="241.26" cy="243.77" r="5.6" fill="#ec5157" stroke="#d9505a" stroke-width="0.6"/>
<circle cx="241.26" cy="243.77" r="3.1" fill="#d8261f"/>
<circle cx="269.06" cy="243.77" r="5.6" fill="#ec5157" stroke="#d9505a" stroke-width="0.6"/>
<circle cx="269.06" cy="243.77" r="3.1" fill="#d8261f"/>
<circle cx="159.74" cy="255.21" r="5.6" fill="#ec5157" stroke="#d9505a" stroke-width="0.6"/>
<circle cx="159.74" cy="255.21" r="3.1" fill="#d8261f"/>
<circle cx="200.50" cy="255.21" r="5.6" fill="#6a7ac3" stroke="#5e6eb8" stroke-width="0.6"/>
<circle cx="200.50" cy="255.21" r="2.75" fill="#4055ae"/>
<circle cx="241.26" cy="255.21" r="5.6" fill="#ec5157" stroke="#d9505a" stroke-width="0.6"/>
<circle cx="241.26" cy="255.21" r="3.1" fill="#d8261f"/>
<circle cx="269.06" cy="255.21" r="5.6" fill="#ec5157" stroke="#d9505a" stroke-width="0.6"/>
<circle cx="269.06" cy="255.21" r="3.1" fill="#d8261f"/>
<circle cx="309.82" cy="255.21" r="5.6" fill="#d0d0d0" stroke="#c8c8c8" stroke-width="0.6"/>
<circle cx="309.82" cy="255.21" r="3.0" fill="#c3c3c3"/>
<circle cx="350.58" cy="255.21" r="5.6" fill="#d0d0d0" stroke="#c8c8c8" stroke-width="0.6"/>
<circle cx="350.58" cy="255.21" r="3.0" fill="#c3c3c3"/>
<circle cx="159.74" cy="266.65" r="5.6" fill="#ec5157" stroke="#d9505a" stroke-width="0.6"/>
<circle cx="159.74" cy="266.65" r="3.1" fill="#d8261f"/>
<circle cx="200.50" cy="266.65" r="5.6" fill="#ec5157" stroke="#d9505a" stroke-width="0.6"/>
<circle cx="200.50" cy="266.65" r="3.1" fill="#d8261f"/>
<circle cx="241.26" cy="266.65" r="5.6" fill="#ec5157" stroke="#d9505a" stroke-width="0.6"/>
<circle cx="241.26" cy="266.65" r="3.1" fill="#d8261f"/>
<circle cx="269.06" cy="266.65" r="5.6" fill="#ec5157" stroke="#d9505a" stroke-width="0.6"/>
<circle cx="269.06" cy="266.65" r="3.1" fill="#d8261f"/>
<circle cx="118.98" cy="278.09" r="5.6" fill="#ec5157" stroke="#d9505a" stroke-width="0.6"/>
<circle cx="118.98" cy="278.09" r="3.1" fill="#d8261f"/>
<circle cx="159.74" cy="278.09" r="5.6" fill="#ec5157" stroke="#d9505a" stroke-width="0.6"/>
<circle cx="159.74" cy="278.09" r="3.1" fill="#d8261f"/>
<circle cx="241.26" cy="278.09" r="5.6" fill="#ec5157" stroke="#d9505a" stroke-width="0.6"/>
<circle cx="241.26" cy="278.09" r="3.1" fill="#d8261f"/>
<circle cx="269.06" cy="278.09" r="5.6" fill="#ec5157" stroke="#d9505a" stroke-width="0.6"/>
<circle cx="269.06" cy="278.09" r="3.1" fill="#d8261f"/>
<circle cx="309.82" cy="278.09" r="5.6" fill="#d0d0d0" stroke="#c8c8c8" stroke-width="0.6"/>
<circle cx="309.82" cy="278.09" r="3.0" fill="#c3c3c3"/>
<circle cx="350.58" cy="278.09" r="5.6" fill="#d0d0d0" stroke="#c8c8c8" stroke-width="0.6"/>
<circle cx="350.58" cy="278.09" r="3.0" fill="#c3c3c3"/>
<circle cx="118.98" cy="289.53" r="5.6" fill="#6a7ac3" stroke="#5e6eb8" stroke-width="0.6"/>
<circle cx="118.98" cy="289.53" r="2.75" fill="#4055ae"/>
<circle cx="159.74" cy="289.53" r="5.6" fill="#ec5157" stroke="#d9505a" stroke-width="0.6"/>
<circle cx="159.74" cy="289.53" r="3.1" fill="#d8261f"/>
<circle cx="200.50" cy="289.53" r="5.6" fill="#d0d0d0" stroke="#c8c8c8" stroke-width="0.6"/>
<circle cx="200.50" cy="289.53" r="3.0" fill="#c3c3c3"/>
<circle cx="241.26" cy="289.53" r="5.6" fill="#ec5157" stroke="#d9505a" stroke-width="0.6"/>
<circle cx="241.26" cy="289.53" r="3.1" fill="#d8261f"/>
<circle cx="269.06" cy="289.53" r="5.6" fill="#ec5157" stroke="#d9505a" stroke-width="0.6"/>
<circle cx="269.06" cy="289.53" r="3.1" fill="#d8261f"/>
<circle cx="309.82" cy="289.53" r="5.6" fill="#d0d0d0" stroke="#c8c8c8" stroke-width="0.6"/>
<circle cx="309.82" cy="289.53" r="3.0" fill="#c3c3c3"/>
<circle cx="350.58" cy="289.53" r="5.6" fill="#d0d0d0" stroke="#c8c8c8" stroke-width="0.6"/>
<circle cx="350.58" cy="289.53" r="3.0" fill="#c3c3c3"/>
<circle cx="118.98" cy="300.97" r="5.6" fill="#ec5157" stroke="#d9505a" stroke-width="0.6"/>
<circle cx="118.98" cy="300.97" r="3.1" fill="#d8261f"/>
<circle cx="159.74" cy="300.97" r="5.6" fill="#d0d0d0" stroke="#c8c8c8" stroke-width="0.6"/>
<circle cx="159.74" cy="300.97" r="3.0" fill="#c3c3c3"/>
<circle cx="200.50" cy="300.97" r="5.6" fill="#6a7ac3" stroke="#5e6eb8" stroke-width="0.6"/>
<circle cx="200.50" cy="300.97" r="2.75" fill="#4055ae"/>
<circle cx="241.26" cy="300.97" r="5.6" fill="#ec5157" stroke="#d9505a" stroke-width="0.6"/>
<circle cx="241.26" cy="300.97" r="3.1" fill="#d8261f"/>
<circle cx="269.06" cy="300.97" r="5.6" fill="#ec5157" stroke="#d9505a" stroke-width="0.6"/>
<circle cx="269.06" cy="300.97" r="3.1" fill="#d8261f"/>
<circle cx="309.82" cy="300.97" r="5.6" fill="#d0d0d0" stroke="#c8c8c8" stroke-width="0.6"/>
<circle cx="309.82" cy="300.97" r="3.0" fill="#c3c3c3"/>
<circle cx="350.58" cy="300.97" r="5.6" fill="#6a7ac3" stroke="#5e6eb8" stroke-width="0.6"/>
<circle cx="350.58" cy="300.97" r="2.75" fill="#4055ae"/>
<circle cx="118.98" cy="312.41" r="5.6" fill="#6a7ac3" stroke="#5e6eb8" stroke-width="0.6"/>
<circle cx="118.98" cy="312.41" r="2.75" fill="#4055ae"/>
<circle cx="159.74" cy="312.41" r="5.6" fill="#ec5157" stroke="#d9505a" stroke-width="0.6"/>
<circle cx="159.74" cy="312.41" r="3.1" fill="#d8261f"/>
<circle cx="241.26" cy="312.41" r="5.6" fill="#ec5157" stroke="#d9505a" stroke-width="0.6"/>
<circle cx="241.26" cy="312.41" r="3.1" fill="#d8261f"/>
<circle cx="269.06" cy="312.41" r="5.6" fill="#ec5157" stroke="#d9505a" stroke-width="0.6"/>
<circle cx="269.06" cy="312.41" r="3.1" fill="#d8261f"/>
<circle cx="309.82" cy="312.41" r="5.6" fill="#d0d0d0" stroke="#c8c8c8" stroke-width="0.6"/>
<circle cx="309.82" cy="312.41" r="3.0" fill="#c3c3c3"/>
<circle cx="350.58" cy="312.41" r="5.6" fill="#d0d0d0" stroke="#c8c8c8" stroke-width="0.6"/>
<circle cx="350.58" cy="312.41" r="3.0" fill="#c3c3c3"/>
<circle cx="159.74" cy="323.85" r="5.6" fill="#ec5157" stroke="#d9505a" stroke-width="0.6"/>
<circle cx="159.74" cy="323.85" r="3.1" fill="#d8261f"/>
<circle cx="200.50" cy="323.85" r="5.6" fill="#6a7ac3" stroke="#5e6eb8" stroke-width="0.6"/>
<circle cx="200.50" cy="323.85" r="2.75" fill="#4055ae"/>
<circle cx="241.26" cy="323.85" r="5.6" fill="#ec5157" stroke="#d9505a" stroke-width="0.6"/>
<circle cx="241.26" cy="323.85" r="3.1" fill="#d8261f"/>
<circle cx="269.06" cy="323.85" r="5.6" fill="#ec5157" stroke="#d9505a" stroke-width="0.6"/>
<circle cx="269.06" cy="323.85" r="3.1" fill="#d8261f"/>
<circle cx="309.82" cy="323.85" r="5.6" fill="#d0d0d0" stroke="#c8c8c8" stroke-width="0.6"/>
<circle cx="309.82" cy="323.85" r="3.0" fill="#c3c3c3"/>
<circle cx="159.74" cy="335.29" r="5.6" fill="#ec5157" stroke="#d9505a" stroke-width="0.6"/>
<circle cx="159.74" cy="335.29" r="3.1" fill="#d8261f"/>
<circle cx="200.50" cy="335.29" r="5.6" fill="#ec5157" stroke="#d9505a" stroke-width="0.6"/>
<circle cx="200.50" cy="335.29" r="3.1" fill="#d8261f"/>
<circle cx="241.26" cy="335.29" r="5.6" fill="#ec5157" stroke="#d9505a" stroke-width="0.6"/>
<circle cx="241.26" cy="335.29" r="3.1" fill="#d8261f"/>
<circle cx="269.06" cy="335.29" r="5.6" fill="#d0d0d0" stroke="#c8c8c8" stroke-width="0.6"/>
<circle cx="269.06" cy="335.29" r="3.0" fill="#c3c3c3"/>
<circle cx="309.82" cy="335.29" r="5.6" fill="#ec5157" stroke="#d9505a" stroke-width="0.6"/>
<circle cx="309.82" cy="335.29" r="3.1" fill="#d8261f"/>
<circle cx="350.58" cy="335.29" r="5.6" fill="#6a7ac3" stroke="#5e6eb8" stroke-width="0.6"/>
<circle cx="350.58" cy="335.29" r="2.75" fill="#4055ae"/>
<circle cx="118.98" cy="346.73" r="5.6" fill="#d0d0d0" stroke="#c8c8c8" stroke-width="0.6"/>
<circle cx="118.98" cy="346.73" r="3.0" fill="#c3c3c3"/>
<circle cx="159.74" cy="346.73" r="5.6" fill="#ec5157" stroke="#d9505a" stroke-width="0.6"/>
<circle cx="159.74" cy="346.73" r="3.1" fill="#d8261f"/>
<circle cx="200.50" cy="346.73" r="5.6" fill="#ec5157" stroke="#d9505a" stroke-width="0.6"/>
<circle cx="200.50" cy="346.73" r="3.1" fill="#d8261f"/>
<circle cx="241.26" cy="346.73" r="5.6" fill="#6a7ac3" stroke="#5e6eb8" stroke-width="0.6"/>
<circle cx="241.26" cy="346.73" r="2.75" fill="#4055ae"/>
<circle cx="269.06" cy="346.73" r="5.6" fill="#ec5157" stroke="#d9505a" stroke-width="0.6"/>
<circle cx="269.06" cy="346.73" r="3.1" fill="#d8261f"/>
<circle cx="309.82" cy="346.73" r="5.6" fill="#d0d0d0" stroke="#c8c8c8" stroke-width="0.6"/>
<circle cx="309.82" cy="346.73" r="3.0" fill="#c3c3c3"/>
<circle cx="350.58" cy="346.73" r="5.6" fill="#d0d0d0" stroke="#c8c8c8" stroke-width="0.6"/>
<circle cx="350.58" cy="346.73" r="3.0" fill="#c3c3c3"/>
<circle cx="159.74" cy="358.16" r="5.6" fill="#6a7ac3" stroke="#5e6eb8" stroke-width="0.6"/>
<circle cx="159.74" cy="358.16" r="2.75" fill="#4055ae"/>
<circle cx="200.50" cy="358.16" r="5.6" fill="#d0d0d0" stroke="#c8c8c8" stroke-width="0.6"/>
<circle cx="200.50" cy="358.16" r="3.0" fill="#c3c3c3"/>
<circle cx="241.26" cy="358.16" r="5.6" fill="#6a7ac3" stroke="#5e6eb8" stroke-width="0.6"/>
<circle cx="241.26" cy="358.16" r="2.75" fill="#4055ae"/>
<circle cx="269.06" cy="358.16" r="5.6" fill="#d0d0d0" stroke="#c8c8c8" stroke-width="0.6"/>
<circle cx="269.06" cy="358.16" r="3.0" fill="#c3c3c3"/>
<circle cx="309.82" cy="358.16" r="5.6" fill="#6a7ac3" stroke="#5e6eb8" stroke-width="0.6"/>
<circle cx="309.82" cy="358.16" r="2.75" fill="#4055ae"/>
<circle cx="350.58" cy="358.16" r="5.6" fill="#ec5157" stroke="#d9505a" stroke-width="0.6"/>
<circle cx="350.58" cy="358.16" r="3.1" fill="#d8261f"/>
<circle cx="118.98" cy="369.60" r="5.6" fill="#6a7ac3" stroke="#5e6eb8" stroke-width="0.6"/>
<circle cx="118.98" cy="369.60" r="2.75" fill="#4055ae"/>
<circle cx="159.74" cy="369.60" r="5.6" fill="#ec5157" stroke="#d9505a" stroke-width="0.6"/>
<circle cx="159.74" cy="369.60" r="3.1" fill="#d8261f"/>
<circle cx="241.26" cy="369.60" r="5.6" fill="#6a7ac3" stroke="#5e6eb8" stroke-width="0.6"/>
<circle cx="241.26" cy="369.60" r="2.75" fill="#4055ae"/>
<circle cx="269.06" cy="369.60" r="5.6" fill="#d0d0d0" stroke="#c8c8c8" stroke-width="0.6"/>
<circle cx="269.06" cy="369.60" r="3.0" fill="#c3c3c3"/>
<circle cx="309.82" cy="369.60" r="5.6" fill="#d0d0d0" stroke="#c8c8c8" stroke-width="0.6"/>
<circle cx="309.82" cy="369.60" r="3.0" fill="#c3c3c3"/>
<circle cx="350.58" cy="369.60" r="5.6" fill="#ec5157" stroke="#d9505a" stroke-width="0.6"/>
<circle cx="350.58" cy="369.60" r="3.1" fill="#d8261f"/>
<circle cx="159.74" cy="381.04" r="5.6" fill="#6a7ac3" stroke="#5e6eb8" stroke-width="0.6"/>
<circle cx="159.74" cy="381.04" r="2.75" fill="#4055ae"/>
<circle cx="200.50" cy="381.04" r="5.6" fill="#6a7ac3" stroke="#5e6eb8" stroke-width="0.6"/>
<circle cx="200.50" cy="381.04" r="2.75" fill="#4055ae"/>
<circle cx="241.26" cy="381.04" r="5.6" fill="#ec5157" stroke="#d9505a" stroke-width="0.6"/>
<circle cx="241.26" cy="381.04" r="3.1" fill="#d8261f"/>
<circle cx="269.06" cy="381.04" r="5.6" fill="#ec5157" stroke="#d9505a" stroke-width="0.6"/>
<circle cx="269.06" cy="381.04" r="3.1" fill="#d8261f"/>
<circle cx="309.82" cy="381.04" r="5.6" fill="#d0d0d0" stroke="#c8c8c8" stroke-width="0.6"/>
<circle cx="309.82" cy="381.04" r="3.0" fill="#c3c3c3"/>
<circle cx="350.58" cy="381.04" r="5.6" fill="#6a7ac3" stroke="#5e6eb8" stroke-width="0.6"/>
<circle cx="350.58" cy="381.04" r="2.75" fill="#4055ae"/>
<circle cx="159.74" cy="392.48" r="5.6" fill="#ec5157" stroke="#d9505a" stroke-width="0.6"/>
<circle cx="159.74" cy="392.48" r="3.1" fill="#d8261f"/>
<circle cx="200.50" cy="392.48" r="5.6" fill="#ec5157" stroke="#d9505a" stroke-width="0.6"/>
<circle cx="200.50" cy="392.48" r="3.1" fill="#d8261f"/>
<circle cx="241.26" cy="392.48" r="5.6" fill="#ec5157" stroke="#d9505a" stroke-width="0.6"/>
<circle cx="241.26" cy="392.48" r="3.1" fill="#d8261f"/>
<circle cx="269.06" cy="392.48" r="5.6" fill="#ec5157" stroke="#d9505a" stroke-width="0.6"/>
<circle cx="269.06" cy="392.48" r="3.1" fill="#d8261f"/>
<circle cx="309.82" cy="392.48" r="5.6" fill="#d0d0d0" stroke="#c8c8c8" stroke-width="0.6"/>
<circle cx="309.82" cy="392.48" r="3.0" fill="#c3c3c3"/>
<circle cx="350.58" cy="392.48" r="5.6" fill="#d0d0d0" stroke="#c8c8c8" stroke-width="0.6"/>
<circle cx="350.58" cy="392.48" r="3.0" fill="#c3c3c3"/>
<circle cx="118.98" cy="403.92" r="5.6" fill="#6a7ac3" stroke="#5e6eb8" stroke-width="0.6"/>
<circle cx="118.98" cy="403.92" r="2.75" fill="#4055ae"/>
<circle cx="159.74" cy="403.92" r="5.6" fill="#6a7ac3" stroke="#5e6eb8" stroke-width="0.6"/>
<circle cx="159.74" cy="403.92" r="2.75" fill="#4055ae"/>
<circle cx="200.50" cy="403.92" r="5.6" fill="#d0d0d0" stroke="#c8c8c8" stroke-width="0.6"/>
<circle cx="200.50" cy="403.92" r="3.0" fill="#c3c3c3"/>
<circle cx="241.26" cy="403.92" r="5.6" fill="#d0d0d0" stroke="#c8c8c8" stroke-width="0.6"/>
<circle cx="241.26" cy="403.92" r="3.0" fill="#c3c3c3"/>
<circle cx="269.06" cy="403.92" r="5.6" fill="#ec5157" stroke="#d9505a" stroke-width="0.6"/>
<circle cx="269.06" cy="403.92" r="3.1" fill="#d8261f"/>
<circle cx="309.82" cy="403.92" r="5.6" fill="#6a7ac3" stroke="#5e6eb8" stroke-width="0.6"/>
<circle cx="309.82" cy="403.92" r="2.75" fill="#4055ae"/>
<circle cx="350.58" cy="403.92" r="5.6" fill="#d0d0d0" stroke="#c8c8c8" stroke-width="0.6"/>
<circle cx="350.58" cy="403.92" r="3.0" fill="#c3c3c3"/>
<circle cx="118.98" cy="415.36" r="5.6" fill="#6a7ac3" stroke="#5e6eb8" stroke-width="0.6"/>
<circle cx="118.98" cy="415.36" r="2.75" fill="#4055ae"/>
<circle cx="159.74" cy="415.36" r="5.6" fill="#d0d0d0" stroke="#c8c8c8" stroke-width="0.6"/>
<circle cx="159.74" cy="415.36" r="3.0" fill="#c3c3c3"/>
<circle cx="200.50" cy="415.36" r="5.6" fill="#ec5157" stroke="#d9505a" stroke-width="0.6"/>
<circle cx="200.50" cy="415.36" r="3.1" fill="#d8261f"/>
<circle cx="241.26" cy="415.36" r="5.6" fill="#d0d0d0" stroke="#c8c8c8" stroke-width="0.6"/>
<circle cx="241.26" cy="415.36" r="3.0" fill="#c3c3c3"/>
<circle cx="269.06" cy="415.36" r="5.6" fill="#ec5157" stroke="#d9505a" stroke-width="0.6"/>
<circle cx="269.06" cy="415.36" r="3.1" fill="#d8261f"/>
<circle cx="309.82" cy="415.36" r="5.6" fill="#6a7ac3" stroke="#5e6eb8" stroke-width="0.6"/>
<circle cx="309.82" cy="415.36" r="2.75" fill="#4055ae"/>
<circle cx="350.58" cy="415.36" r="5.6" fill="#d0d0d0" stroke="#c8c8c8" stroke-width="0.6"/>
<circle cx="350.58" cy="415.36" r="3.0" fill="#c3c3c3"/>
<circle cx="159.74" cy="426.80" r="5.6" fill="#ec5157" stroke="#d9505a" stroke-width="0.6"/>
<circle cx="159.74" cy="426.80" r="3.1" fill="#d8261f"/>
<circle cx="200.50" cy="426.80" r="5.6" fill="#ec5157" stroke="#d9505a" stroke-width="0.6"/>
<circle cx="200.50" cy="426.80" r="3.1" fill="#d8261f"/>
<circle cx="241.26" cy="426.80" r="5.6" fill="#ec5157" stroke="#d9505a" stroke-width="0.6"/>
<circle cx="241.26" cy="426.80" r="3.1" fill="#d8261f"/>
<circle cx="269.06" cy="426.80" r="5.6" fill="#ec5157" stroke="#d9505a" stroke-width="0.6"/>
<circle cx="269.06" cy="426.80" r="3.1" fill="#d8261f"/>
<circle cx="309.82" cy="426.80" r="5.6" fill="#d0d0d0" stroke="#c8c8c8" stroke-width="0.6"/>
<circle cx="309.82" cy="426.80" r="3.0" fill="#c3c3c3"/>
<circle cx="350.58" cy="426.80" r="5.6" fill="#d0d0d0" stroke="#c8c8c8" stroke-width="0.6"/>
<circle cx="350.58" cy="426.80" r="3.0" fill="#c3c3c3"/>
<circle cx="118.98" cy="438.24" r="5.6" fill="#6a7ac3" stroke="#5e6eb8" stroke-width="0.6"/>
<circle cx="118.98" cy="438.24" r="2.75" fill="#4055ae"/>
<circle cx="159.74" cy="438.24" r="5.6" fill="#6a7ac3" stroke="#5e6eb8" stroke-width="0.6"/>
<circle cx="159.74" cy="438.24" r="2.75" fill="#4055ae"/>
<circle cx="200.50" cy="438.24" r="5.6" fill="#ec5157" stroke="#d9505a" stroke-width="0.6"/>
<circle cx="200.50" cy="438.24" r="3.1" fill="#d8261f"/>
<circle cx="241.26" cy="438.24" r="5.6" fill="#6a7ac3" stroke="#5e6eb8" stroke-width="0.6"/>
<circle cx="241.26" cy="438.24" r="2.75" fill="#4055ae"/>
<circle cx="269.06" cy="438.24" r="5.6" fill="#ec5157" stroke="#d9505a" stroke-width="0.6"/>
<circle cx="269.06" cy="438.24" r="3.1" fill="#d8261f"/>
<circle cx="309.82" cy="438.24" r="5.6" fill="#d0d0d0" stroke="#c8c8c8" stroke-width="0.6"/>
<circle cx="309.82" cy="438.24" r="3.0" fill="#c3c3c3"/>
<circle cx="350.58" cy="438.24" r="5.6" fill="#d0d0d0" stroke="#c8c8c8" stroke-width="0.6"/>
<circle cx="350.58" cy="438.24" r="3.0" fill="#c3c3c3"/>
<circle cx="159.74" cy="449.68" r="5.6" fill="#6a7ac3" stroke="#5e6eb8" stroke-width="0.6"/>
<circle cx="159.74" cy="449.68" r="2.75" fill="#4055ae"/>
<circle cx="200.50" cy="449.68" r="5.6" fill="#6a7ac3" stroke="#5e6eb8" stroke-width="0.6"/>
<circle cx="200.50" cy="449.68" r="2.75" fill="#4055ae"/>
<circle cx="241.26" cy="449.68" r="5.6" fill="#ec5157" stroke="#d9505a" stroke-width="0.6"/>
<circle cx="241.26" cy="449.68" r="3.1" fill="#d8261f"/>
<circle cx="269.06" cy="449.68" r="5.6" fill="#ec5157" stroke="#d9505a" stroke-width="0.6"/>
<circle cx="269.06" cy="449.68" r="3.1" fill="#d8261f"/>
<circle cx="309.82" cy="449.68" r="5.6" fill="#ec5157" stroke="#d9505a" stroke-width="0.6"/>
<circle cx="309.82" cy="449.68" r="3.1" fill="#d8261f"/>
<circle cx="350.58" cy="449.68" r="5.6" fill="#6a7ac3" stroke="#5e6eb8" stroke-width="0.6"/>
<circle cx="350.58" cy="449.68" r="2.75" fill="#4055ae"/>
<circle cx="118.98" cy="461.12" r="5.6" fill="#6a7ac3" stroke="#5e6eb8" stroke-width="0.6"/>
<circle cx="118.98" cy="461.12" r="2.75" fill="#4055ae"/>
<circle cx="159.74" cy="461.12" r="5.6" fill="#ec5157" stroke="#d9505a" stroke-width="0.6"/>
<circle cx="159.74" cy="461.12" r="3.1" fill="#d8261f"/>
<circle cx="200.50" cy="461.12" r="5.6" fill="#ec5157" stroke="#d9505a" stroke-width="0.6"/>
<circle cx="200.50" cy="461.12" r="3.1" fill="#d8261f"/>
<circle cx="241.26" cy="461.12" r="5.6" fill="#ec5157" stroke="#d9505a" stroke-width="0.6"/>
<circle cx="241.26" cy="461.12" r="3.1" fill="#d8261f"/>
<circle cx="269.06" cy="461.12" r="5.6" fill="#d0d0d0" stroke="#c8c8c8" stroke-width="0.6"/>
<circle cx="269.06" cy="461.12" r="3.0" fill="#c3c3c3"/>
<circle cx="309.82" cy="461.12" r="5.6" fill="#d0d0d0" stroke="#c8c8c8" stroke-width="0.6"/>
<circle cx="309.82" cy="461.12" r="3.0" fill="#c3c3c3"/>
<circle cx="350.58" cy="461.12" r="5.6" fill="#d0d0d0" stroke="#c8c8c8" stroke-width="0.6"/>
<circle cx="350.58" cy="461.12" r="3.0" fill="#c3c3c3"/>
<circle cx="118.98" cy="472.56" r="5.6" fill="#6a7ac3" stroke="#5e6eb8" stroke-width="0.6"/>
<circle cx="118.98" cy="472.56" r="2.75" fill="#4055ae"/>
<circle cx="159.74" cy="472.56" r="5.6" fill="#6a7ac3" stroke="#5e6eb8" stroke-width="0.6"/>
<circle cx="159.74" cy="472.56" r="2.75" fill="#4055ae"/>
<circle cx="200.50" cy="472.56" r="5.6" fill="#6a7ac3" stroke="#5e6eb8" stroke-width="0.6"/>
<circle cx="200.50" cy="472.56" r="2.75" fill="#4055ae"/>
<circle cx="241.26" cy="472.56" r="5.6" fill="#6a7ac3" stroke="#5e6eb8" stroke-width="0.6"/>
<circle cx="241.26" cy="472.56" r="2.75" fill="#4055ae"/>
<circle cx="269.06" cy="472.56" r="5.6" fill="#6a7ac3" stroke="#5e6eb8" stroke-width="0.6"/>
<circle cx="269.06" cy="472.56" r="2.75" fill="#4055ae"/>
<circle cx="309.82" cy="472.56" r="5.6" fill="#d0d0d0" stroke="#c8c8c8" stroke-width="0.6"/>
<circle cx="309.82" cy="472.56" r="3.0" fill="#c3c3c3"/>
<circle cx="350.58" cy="472.56" r="5.6" fill="#6a7ac3" stroke="#5e6eb8" stroke-width="0.6"/>
<circle cx="350.58" cy="472.56" r="2.75" fill="#4055ae"/>
<circle cx="159.74" cy="484.00" r="5.6" fill="#ec5157" stroke="#d9505a" stroke-width="0.6"/>
<circle cx="159.74" cy="484.00" r="3.1" fill="#d8261f"/>
<circle cx="200.50" cy="484.00" r="5.6" fill="#ec5157" stroke="#d9505a" stroke-width="0.6"/>
<circle cx="200.50" cy="484.00" r="3.1" fill="#d8261f"/>
<circle cx="241.26" cy="484.00" r="5.6" fill="#ec5157" stroke="#d9505a" stroke-width="0.6"/>
<circle cx="241.26" cy="484.00" r="3.1" fill="#d8261f"/>
<circle cx="269.06" cy="484.00" r="5.6" fill="#ec5157" stroke="#d9505a" stroke-width="0.6"/>
<circle cx="269.06" cy="484.00" r="3.1" fill="#d8261f"/>
<circle cx="350.58" cy="484.00" r="5.6" fill="#d0d0d0" stroke="#c8c8c8" stroke-width="0.6"/>
<circle cx="350.58" cy="484.00" r="3.0" fill="#c3c3c3"/>
<circle cx="159.74" cy="495.44" r="5.6" fill="#6a7ac3" stroke="#5e6eb8" stroke-width="0.6"/>
<circle cx="159.74" cy="495.44" r="2.75" fill="#4055ae"/>
<circle cx="200.50" cy="495.44" r="5.6" fill="#ec5157" stroke="#d9505a" stroke-width="0.6"/>
<circle cx="200.50" cy="495.44" r="3.1" fill="#d8261f"/>
<circle cx="241.26" cy="495.44" r="5.6" fill="#6a7ac3" stroke="#5e6eb8" stroke-width="0.6"/>
<circle cx="241.26" cy="495.44" r="2.75" fill="#4055ae"/>
<circle cx="269.06" cy="495.44" r="5.6" fill="#ec5157" stroke="#d9505a" stroke-width="0.6"/>
<circle cx="269.06" cy="495.44" r="3.1" fill="#d8261f"/>
<circle cx="309.82" cy="495.44" r="5.6" fill="#d0d0d0" stroke="#c8c8c8" stroke-width="0.6"/>
<circle cx="309.82" cy="495.44" r="3.0" fill="#c3c3c3"/>
<circle cx="350.58" cy="495.44" r="5.6" fill="#d0d0d0" stroke="#c8c8c8" stroke-width="0.6"/>
<circle cx="350.58" cy="495.44" r="3.0" fill="#c3c3c3"/>
<rect x="102.30" y="31.0" width="33.36" height="471.30" fill="none" stroke="#666" stroke-width="0.8"/>
<line x1="101.80" y1="502.30" x2="136.16" y2="502.30" stroke="#000" stroke-width="1.1"/>
<rect x="143.06" y="31.0" width="33.36" height="471.30" fill="none" stroke="#666" stroke-width="0.8"/>
<line x1="142.56" y1="502.30" x2="176.92" y2="502.30" stroke="#000" stroke-width="1.1"/>
<rect x="183.82" y="31.0" width="33.36" height="471.30" fill="none" stroke="#666" stroke-width="0.8"/>
<line x1="183.32" y1="502.30" x2="217.68" y2="502.30" stroke="#000" stroke-width="1.1"/>
<rect x="224.58" y="31.0" width="61.16" height="471.30" fill="none" stroke="#666" stroke-width="0.8"/>
<line x1="224.08" y1="502.30" x2="286.24" y2="502.30" stroke="#000" stroke-width="1.1"/>
<rect x="293.14" y="31.0" width="33.36" height="471.30" fill="none" stroke="#666" stroke-width="0.8"/>
<line x1="292.64" y1="502.30" x2="327.00" y2="502.30" stroke="#000" stroke-width="1.1"/>
<rect x="333.90" y="31.0" width="33.36" height="471.30" fill="none" stroke="#666" stroke-width="0.8"/>
<line x1="333.40" y1="502.30" x2="367.76" y2="502.30" stroke="#000" stroke-width="1.1"/>
<line x1="102.3" y1="31.0" x2="102.3" y2="502.80" stroke="#000" stroke-width="1.1"/>
<line x1="101.90" y1="31.0" x2="136.06" y2="31.0" stroke="#111" stroke-width="1.3"/>
<line x1="142.66" y1="31.0" x2="176.82" y2="31.0" stroke="#111" stroke-width="1.3"/>
<line x1="183.42" y1="31.0" x2="217.58" y2="31.0" stroke="#111" stroke-width="1.3"/>
<line x1="224.18" y1="31.0" x2="286.14" y2="31.0" stroke="#111" stroke-width="1.3"/>
<line x1="292.74" y1="31.0" x2="326.90" y2="31.0" stroke="#111" stroke-width="1.3"/>
<line x1="333.50" y1="31.0" x2="367.66" y2="31.0" stroke="#111" stroke-width="1.3"/>
<line x1="99.0" y1="37.86" x2="102.3" y2="37.86" stroke="#000" stroke-width="0.9"/>
<text x="97.60" y="40.66" font-size="8.5" text-anchor="end" font-weight="normal" fill="#1a1a1a" stroke="#1a1a1a" stroke-width="0.12" transform="rotate(-45 97.60 40.66)">Gamma−glutamyltyrosine</text>
<line x1="99.0" y1="49.30" x2="102.3" y2="49.30" stroke="#000" stroke-width="0.9"/>
<text x="97.60" y="52.10" font-size="8.5" text-anchor="end" font-weight="normal" fill="#1a1a1a" stroke="#1a1a1a" stroke-width="0.12" transform="rotate(-45 97.60 52.10)">Xanthosine</text>
<line x1="99.0" y1="60.74" x2="102.3" y2="60.74" stroke="#000" stroke-width="0.9"/>
<text x="97.60" y="63.54" font-size="8.5" text-anchor="end" font-weight="normal" fill="#1a1a1a" stroke="#1a1a1a" stroke-width="0.12" transform="rotate(-45 97.60 63.54)">Uracil</text>
<line x1="99.0" y1="72.18" x2="102.3" y2="72.18" stroke="#000" stroke-width="0.9"/>
<text x="97.60" y="74.98" font-size="8.5" text-anchor="end" font-weight="normal" fill="#1a1a1a" stroke="#1a1a1a" stroke-width="0.12" transform="rotate(-45 97.60 74.98)">Inosine</text>
<line x1="99.0" y1="83.62" x2="102.3" y2="83.62" stroke="#000" stroke-width="0.9"/>
<text x="97.60" y="86.42" font-size="8.5" text-anchor="end" font-weight="normal" fill="#1a1a1a" stroke="#1a1a1a" stroke-width="0.12" transform="rotate(-45 97.60 86.42)">Hypoxanthine</text>
<line x1="99.0" y1="95.06" x2="102.3" y2="95.06" stroke="#000" stroke-width="0.9"/>
<text x="97.60" y="97.86" font-size="8.5" text-anchor="end" font-weight="normal" fill="#1a1a1a" stroke="#1a1a1a" stroke-width="0.12" transform="rotate(-45 97.60 97.86)">Guanine</text>
<line x1="99.0" y1="106.50" x2="102.3" y2="106.50" stroke="#000" stroke-width="0.9"/>
<text x="97.60" y="109.30" font-size="8.5" text-anchor="end" font-weight="normal" fill="#1a1a1a" stroke="#1a1a1a" stroke-width="0.12" transform="rotate(-45 97.60 109.30)">Adenosine</text>
<line x1="99.0" y1="117.94" x2="102.3" y2="117.94" stroke="#000" stroke-width="0.9"/>
<text x="97.60" y="120.74" font-size="8.5" text-anchor="end" font-weight="normal" fill="#1a1a1a" stroke="#1a1a1a" stroke-width="0.12" transform="rotate(-45 97.60 120.74)">1−methyladenosine</text>
<line x1="99.0" y1="129.38" x2="102.3" y2="129.38" stroke="#000" stroke-width="0.9"/>
<text x="97.60" y="132.18" font-size="8.5" text-anchor="end" font-weight="normal" fill="#1a1a1a" stroke="#1a1a1a" stroke-width="0.12" transform="rotate(-45 97.60 132.18)">Stearate (18:0)</text>
<line x1="99.0" y1="140.82" x2="102.3" y2="140.82" stroke="#000" stroke-width="0.9"/>
<text x="97.60" y="143.62" font-size="8.5" text-anchor="end" font-weight="normal" fill="#1a1a1a" stroke="#1a1a1a" stroke-width="0.12" transform="rotate(-45 97.60 143.62)">Inositol 1−phosphate (i1p)</text>
<line x1="99.0" y1="152.26" x2="102.3" y2="152.26" stroke="#000" stroke-width="0.9"/>
<text x="97.60" y="155.06" font-size="8.5" text-anchor="end" font-weight="normal" fill="#1a1a1a" stroke="#1a1a1a" stroke-width="0.12" transform="rotate(-45 97.60 155.06)">Glycerophosphorylcholine (gpc)</text>
<line x1="99.0" y1="163.70" x2="102.3" y2="163.70" stroke="#000" stroke-width="0.9"/>
<text x="97.60" y="166.50" font-size="8.5" text-anchor="end" font-weight="normal" fill="#1a1a1a" stroke="#1a1a1a" stroke-width="0.12" transform="rotate(-45 97.60 166.50)">Eicosenoate (20:1)</text>
<line x1="99.0" y1="175.14" x2="102.3" y2="175.14" stroke="#000" stroke-width="0.9"/>
<text x="97.60" y="177.94" font-size="8.5" text-anchor="end" font-weight="normal" fill="#1a1a1a" stroke="#1a1a1a" stroke-width="0.12" transform="rotate(-45 97.60 177.94)">Docosahexaenoate (dha; 22:6n3)</text>
<line x1="99.0" y1="186.57" x2="102.3" y2="186.57" stroke="#000" stroke-width="0.9"/>
<text x="97.60" y="189.37" font-size="8.5" text-anchor="end" font-weight="normal" fill="#1a1a1a" stroke="#1a1a1a" stroke-width="0.12" transform="rotate(-45 97.60 189.37)">Cholesterol</text>
<line x1="99.0" y1="198.01" x2="102.3" y2="198.01" stroke="#000" stroke-width="0.9"/>
<text x="97.60" y="200.81" font-size="8.5" text-anchor="end" font-weight="normal" fill="#1a1a1a" stroke="#1a1a1a" stroke-width="0.12" transform="rotate(-45 97.60 200.81)">Butyrylcarnitine</text>
<line x1="99.0" y1="209.45" x2="102.3" y2="209.45" stroke="#000" stroke-width="0.9"/>
<text x="97.60" y="212.25" font-size="8.5" text-anchor="end" font-weight="normal" fill="#1a1a1a" stroke="#1a1a1a" stroke-width="0.12" transform="rotate(-45 97.60 212.25)">10−nonadecenoate (19:1n9)</text>
<line x1="99.0" y1="220.89" x2="102.3" y2="220.89" stroke="#000" stroke-width="0.9"/>
<text x="97.60" y="223.69" font-size="8.5" text-anchor="end" font-weight="normal" fill="#1a1a1a" stroke="#1a1a1a" stroke-width="0.12" transform="rotate(-45 97.60 223.69)">1−arachidonoyl−gpe (20:4n6)</text>
<line x1="99.0" y1="232.33" x2="102.3" y2="232.33" stroke="#000" stroke-width="0.9"/>
<text x="97.60" y="235.13" font-size="8.5" text-anchor="end" font-weight="normal" fill="#1a1a1a" stroke="#1a1a1a" stroke-width="0.12" transform="rotate(-45 97.60 235.13)">Citrate</text>
<line x1="99.0" y1="243.77" x2="102.3" y2="243.77" stroke="#000" stroke-width="0.9"/>
<text x="97.60" y="246.57" font-size="8.5" text-anchor="end" font-weight="normal" fill="#1a1a1a" stroke="#1a1a1a" stroke-width="0.12" transform="rotate(-45 97.60 246.57)">1−methylnicotinamide</text>
<line x1="99.0" y1="255.21" x2="102.3" y2="255.21" stroke="#000" stroke-width="0.9"/>
<text x="97.60" y="258.01" font-size="8.5" text-anchor="end" font-weight="normal" fill="#1a1a1a" stroke="#1a1a1a" stroke-width="0.12" transform="rotate(-45 97.60 258.01)">N−acetylneuraminate</text>
<line x1="99.0" y1="266.65" x2="102.3" y2="266.65" stroke="#000" stroke-width="0.9"/>
<text x="97.60" y="269.45" font-size="8.5" text-anchor="end" font-weight="normal" fill="#1a1a1a" stroke="#1a1a1a" stroke-width="0.12" transform="rotate(-45 97.60 269.45)">N−acetylglucosamine 6−phosphate</text>
<line x1="99.0" y1="278.09" x2="102.3" y2="278.09" stroke="#000" stroke-width="0.9"/>
<text x="97.60" y="280.89" font-size="8.5" text-anchor="end" font-weight="normal" fill="#1a1a1a" stroke="#1a1a1a" stroke-width="0.12" transform="rotate(-45 97.60 280.89)">Maltose</text>
<line x1="99.0" y1="289.53" x2="102.3" y2="289.53" stroke="#000" stroke-width="0.9"/>
<text x="97.60" y="292.33" font-size="8.5" text-anchor="end" font-weight="normal" fill="#1a1a1a" stroke="#1a1a1a" stroke-width="0.12" transform="rotate(-45 97.60 292.33)">Lactate</text>
<line x1="99.0" y1="300.97" x2="102.3" y2="300.97" stroke="#000" stroke-width="0.9"/>
<text x="97.60" y="303.77" font-size="8.5" text-anchor="end" font-weight="normal" fill="#1a1a1a" stroke="#1a1a1a" stroke-width="0.12" transform="rotate(-45 97.60 303.77)">Glucose</text>
<line x1="99.0" y1="312.41" x2="102.3" y2="312.41" stroke="#000" stroke-width="0.9"/>
<text x="97.60" y="315.21" font-size="8.5" text-anchor="end" font-weight="normal" fill="#1a1a1a" stroke="#1a1a1a" stroke-width="0.12" transform="rotate(-45 97.60 315.21)">Fructose</text>
<line x1="99.0" y1="323.85" x2="102.3" y2="323.85" stroke="#000" stroke-width="0.9"/>
<text x="97.60" y="326.65" font-size="8.5" text-anchor="end" font-weight="normal" fill="#1a1a1a" stroke="#1a1a1a" stroke-width="0.12" transform="rotate(-45 97.60 326.65)">6−phosphogluconate</text>
<line x1="99.0" y1="335.29" x2="102.3" y2="335.29" stroke="#000" stroke-width="0.9"/>
<text x="97.60" y="338.09" font-size="8.5" text-anchor="end" font-weight="normal" fill="#1a1a1a" stroke="#1a1a1a" stroke-width="0.12" transform="rotate(-45 97.60 338.09)">Taurine</text>
<line x1="99.0" y1="346.73" x2="102.3" y2="346.73" stroke="#000" stroke-width="0.9"/>
<text x="97.60" y="349.53" font-size="8.5" text-anchor="end" font-weight="normal" fill="#1a1a1a" stroke="#1a1a1a" stroke-width="0.12" transform="rotate(-45 97.60 349.53)">Proline</text>
<line x1="99.0" y1="358.16" x2="102.3" y2="358.16" stroke="#000" stroke-width="0.9"/>
<text x="97.60" y="360.96" font-size="8.5" text-anchor="end" font-weight="normal" fill="#1a1a1a" stroke="#1a1a1a" stroke-width="0.12" transform="rotate(-45 97.60 360.96)">Ornithine</text>
<line x1="99.0" y1="369.60" x2="102.3" y2="369.60" stroke="#000" stroke-width="0.9"/>
<text x="97.60" y="372.40" font-size="8.5" text-anchor="end" font-weight="normal" fill="#1a1a1a" stroke="#1a1a1a" stroke-width="0.12" transform="rotate(-45 97.60 372.40)">Cysteine</text>
<line x1="99.0" y1="381.04" x2="102.3" y2="381.04" stroke="#000" stroke-width="0.9"/>
<text x="97.60" y="383.84" font-size="8.5" text-anchor="end" font-weight="normal" fill="#1a1a1a" stroke="#1a1a1a" stroke-width="0.12" transform="rotate(-45 97.60 383.84)">Creatine</text>
<line x1="99.0" y1="392.48" x2="102.3" y2="392.48" stroke="#000" stroke-width="0.9"/>
<text x="97.60" y="395.28" font-size="8.5" text-anchor="end" font-weight="normal" fill="#1a1a1a" stroke="#1a1a1a" stroke-width="0.12" transform="rotate(-45 97.60 395.28)">N−acetylmethionine</text>
<line x1="99.0" y1="403.92" x2="102.3" y2="403.92" stroke="#000" stroke-width="0.9"/>
<text x="97.60" y="406.72" font-size="8.5" text-anchor="end" font-weight="normal" fill="#1a1a1a" stroke="#1a1a1a" stroke-width="0.12" transform="rotate(-45 97.60 406.72)">Lysine</text>
<line x1="99.0" y1="415.36" x2="102.3" y2="415.36" stroke="#000" stroke-width="0.9"/>
<text x="97.60" y="418.16" font-size="8.5" text-anchor="end" font-weight="normal" fill="#1a1a1a" stroke="#1a1a1a" stroke-width="0.12" transform="rotate(-45 97.60 418.16)">Leucine</text>
<line x1="99.0" y1="426.80" x2="102.3" y2="426.80" stroke="#000" stroke-width="0.9"/>
<text x="97.60" y="429.60" font-size="8.5" text-anchor="end" font-weight="normal" fill="#1a1a1a" stroke="#1a1a1a" stroke-width="0.12" transform="rotate(-45 97.60 429.60)">Kynurenine</text>
<line x1="99.0" y1="438.24" x2="102.3" y2="438.24" stroke="#000" stroke-width="0.9"/>
<text x="97.60" y="441.04" font-size="8.5" text-anchor="end" font-weight="normal" fill="#1a1a1a" stroke="#1a1a1a" stroke-width="0.12" transform="rotate(-45 97.60 441.04)">Isoleucine</text>
<line x1="99.0" y1="449.68" x2="102.3" y2="449.68" stroke="#000" stroke-width="0.9"/>
<text x="97.60" y="452.48" font-size="8.5" text-anchor="end" font-weight="normal" fill="#1a1a1a" stroke="#1a1a1a" stroke-width="0.12" transform="rotate(-45 97.60 452.48)">Glutamine</text>
<line x1="99.0" y1="461.12" x2="102.3" y2="461.12" stroke="#000" stroke-width="0.9"/>
<text x="97.60" y="463.92" font-size="8.5" text-anchor="end" font-weight="normal" fill="#1a1a1a" stroke="#1a1a1a" stroke-width="0.12" transform="rotate(-45 97.60 463.92)">Glutamate</text>
<line x1="99.0" y1="472.56" x2="102.3" y2="472.56" stroke="#000" stroke-width="0.9"/>
<text x="97.60" y="475.36" font-size="8.5" text-anchor="end" font-weight="normal" fill="#1a1a1a" stroke="#1a1a1a" stroke-width="0.12" transform="rotate(-45 97.60 475.36)">Creatinine</text>
<line x1="99.0" y1="484.00" x2="102.3" y2="484.00" stroke="#000" stroke-width="0.9"/>
<text x="97.60" y="486.80" font-size="8.5" text-anchor="end" font-weight="normal" fill="#1a1a1a" stroke="#1a1a1a" stroke-width="0.12" transform="rotate(-45 97.60 486.80)">Beta−alanine</text>
<line x1="99.0" y1="495.44" x2="102.3" y2="495.44" stroke="#000" stroke-width="0.9"/>
<text x="97.60" y="498.24" font-size="8.5" text-anchor="end" font-weight="normal" fill="#1a1a1a" stroke="#1a1a1a" stroke-width="0.12" transform="rotate(-45 97.60 498.24)">Asparagine</text>
<line x1="118.98" y1="502.3" x2="118.98" y2="505.5" stroke="#000" stroke-width="1.1"/>
<text x="122.98" y="513.00" font-size="8.8" text-anchor="end" font-weight="normal" fill="#1a1a1a" stroke="#1a1a1a" stroke-width="0.12" transform="rotate(-45 122.98 513.00)">GBM</text>
<line x1="159.74" y1="502.3" x2="159.74" y2="505.5" stroke="#000" stroke-width="1.1"/>
<text x="163.74" y="513.00" font-size="8.8" text-anchor="end" font-weight="normal" fill="#1a1a1a" stroke="#1a1a1a" stroke-width="0.12" transform="rotate(-45 163.74 513.00)">BRCA1</text>
<line x1="200.50" y1="502.3" x2="200.50" y2="505.5" stroke="#000" stroke-width="1.1"/>
<text x="204.50" y="513.00" font-size="8.8" text-anchor="end" font-weight="normal" fill="#1a1a1a" stroke="#1a1a1a" stroke-width="0.12" transform="rotate(-45 204.50 513.00)">COAD</text>
<line x1="241.26" y1="502.3" x2="241.26" y2="505.5" stroke="#000" stroke-width="1.1"/>
<text x="245.26" y="513.00" font-size="8.8" text-anchor="end" font-weight="normal" fill="#1a1a1a" stroke="#1a1a1a" stroke-width="0.12" transform="rotate(-45 245.26 513.00)">ccRCC3</text>
<line x1="269.06" y1="502.3" x2="269.06" y2="505.5" stroke="#000" stroke-width="1.1"/>
<text x="273.06" y="513.00" font-size="8.8" text-anchor="end" font-weight="normal" fill="#1a1a1a" stroke="#1a1a1a" stroke-width="0.12" transform="rotate(-45 273.06 513.00)">ccRCC4</text>
<line x1="309.82" y1="502.3" x2="309.82" y2="505.5" stroke="#000" stroke-width="1.1"/>
<text x="313.82" y="513.00" font-size="8.8" text-anchor="end" font-weight="normal" fill="#1a1a1a" stroke="#1a1a1a" stroke-width="0.12" transform="rotate(-45 313.82 513.00)">PDAC</text>
<line x1="350.58" y1="502.3" x2="350.58" y2="505.5" stroke="#000" stroke-width="1.1"/>
<text x="354.58" y="513.00" font-size="8.8" text-anchor="end" font-weight="normal" fill="#1a1a1a" stroke="#1a1a1a" stroke-width="0.12" transform="rotate(-45 354.58 513.00)">PRAD</text>
<text x="569.80" y="52.00" font-size="8.55" text-anchor="middle" font-weight="bold" fill="#000">Average score</text>
<line x1="427.6" y1="174.4" x2="682.7" y2="174.4" stroke="#888" stroke-width="0.8" stroke-dasharray="1.4 3.8"/>
<line x1="439.1" y1="55.6" x2="439.1" y2="305.4" stroke="#888" stroke-width="0.8" stroke-dasharray="1.4 3.8"/>
<line x1="427.6" y1="55.6" x2="427.6" y2="305.4" stroke="#222" stroke-width="0.9"/>
<line x1="427.6" y1="305.4" x2="682.7" y2="305.4" stroke="#222" stroke-width="0.9"/>
<line x1="439.10" y1="305.4" x2="439.10" y2="308.6" stroke="#222" stroke-width="0.8"/>
<text x="438.80" y="317.80" font-size="8.3" text-anchor="end" font-weight="normal" fill="#1a1a1a" stroke="#1a1a1a" stroke-width="0.12">0.0</text>
<line x1="516.50" y1="305.4" x2="516.50" y2="308.6" stroke="#222" stroke-width="0.8"/>
<text x="516.20" y="317.80" font-size="8.3" text-anchor="end" font-weight="normal" fill="#1a1a1a" stroke="#1a1a1a" stroke-width="0.12">0.2</text>
<line x1="593.90" y1="305.4" x2="593.90" y2="308.6" stroke="#222" stroke-width="0.8"/>
<text x="593.60" y="317.80" font-size="8.3" text-anchor="end" font-weight="normal" fill="#1a1a1a" stroke="#1a1a1a" stroke-width="0.12">0.4</text>
<line x1="671.30" y1="305.4" x2="671.30" y2="308.6" stroke="#222" stroke-width="0.8"/>
<text x="671.00" y="317.80" font-size="8.3" text-anchor="end" font-weight="normal" fill="#1a1a1a" stroke="#1a1a1a" stroke-width="0.12">0.6</text>
<line x1="424.4" y1="102.70" x2="427.6" y2="102.70" stroke="#222" stroke-width="0.8"/>
<text x="421.20" y="105.70" font-size="8.3" text-anchor="end" font-weight="normal" fill="#1a1a1a" stroke="#1a1a1a" stroke-width="0.12">0.2</text>
<line x1="424.4" y1="174.40" x2="427.6" y2="174.40" stroke="#222" stroke-width="0.8"/>
<text x="421.20" y="177.40" font-size="8.3" text-anchor="end" font-weight="normal" fill="#1a1a1a" stroke="#1a1a1a" stroke-width="0.12">0.0</text>
<line x1="424.4" y1="246.10" x2="427.6" y2="246.10" stroke="#222" stroke-width="0.8"/>
<text x="421.20" y="249.10" font-size="8.3" text-anchor="end" font-weight="normal" fill="#1a1a1a" stroke="#1a1a1a" stroke-width="0.12">−0.2</text>
<text x="555.70" y="328.90" font-size="8.5" text-anchor="middle" font-weight="normal" fill="#1a1a1a" stroke="#1a1a1a" stroke-width="0.12">Differential Fraction Score (gene)</text>
<text x="400.00" y="180.65" font-size="8.5" text-anchor="middle" font-weight="normal" fill="#1a1a1a" stroke="#1a1a1a" stroke-width="0.12" transform="rotate(-90 400.00 180.65)">Differential Abundance Score (gene)</text>
<circle cx="594.0" cy="72.1" r="1.45" fill="#000"/>
<circle cx="608.0" cy="130.5" r="1.45" fill="#000"/>
<circle cx="544.5" cy="138.5" r="1.45" fill="#000"/>
<circle cx="554.7" cy="136.7" r="1.45" fill="#000"/>
<circle cx="558.0" cy="141.3" r="1.45" fill="#000"/>
<circle cx="564.9" cy="134.7" r="1.45" fill="#000"/>
<circle cx="566.3" cy="133.3" r="1.45" fill="#000"/>
<circle cx="577.8" cy="137.5" r="1.45" fill="#000"/>
<circle cx="570.5" cy="148.6" r="1.45" fill="#000"/>
<circle cx="536.9" cy="165.6" r="1.45" fill="#000"/>
<circle cx="541.7" cy="167.0" r="1.45" fill="#000"/>
<circle cx="534.6" cy="169.8" r="1.45" fill="#000"/>
<circle cx="507.0" cy="170.5" r="1.45" fill="#000"/>
<circle cx="583.3" cy="166.4" r="1.45" fill="#000"/>
<circle cx="588.4" cy="164.2" r="1.45" fill="#000"/>
<circle cx="597.3" cy="163.0" r="1.45" fill="#000"/>
<circle cx="590.7" cy="171.6" r="1.45" fill="#000"/>
<circle cx="563.4" cy="174.0" r="1.45" fill="#000"/>
<circle cx="564.5" cy="176.2" r="1.45" fill="#000"/>
<circle cx="578.1" cy="174.4" r="1.45" fill="#000"/>
<circle cx="571.9" cy="181.4" r="1.45" fill="#000"/>
<circle cx="533.9" cy="187.0" r="1.45" fill="#000"/>
<circle cx="568.7" cy="188.8" r="1.45" fill="#000"/>
<circle cx="574.7" cy="191.5" r="1.45" fill="#000"/>
<circle cx="592.6" cy="192.2" r="1.45" fill="#000"/>
<circle cx="551.3" cy="191.1" r="1.45" fill="#000"/>
<circle cx="555.2" cy="196.4" r="1.45" fill="#000"/>
<circle cx="556.6" cy="198.4" r="1.45" fill="#000"/>
<circle cx="550.6" cy="199.1" r="1.45" fill="#000"/>
<circle cx="540.4" cy="200.2" r="1.45" fill="#000"/>
<circle cx="568.0" cy="200.4" r="1.45" fill="#000"/>
<circle cx="572.2" cy="199.5" r="1.45" fill="#000"/>
<circle cx="578.1" cy="197.1" r="1.45" fill="#000"/>
<circle cx="583.3" cy="197.8" r="1.45" fill="#000"/>
<circle cx="582.2" cy="200.6" r="1.45" fill="#000"/>
<circle cx="588.6" cy="203.6" r="1.45" fill="#000"/>
<circle cx="525.6" cy="206.7" r="1.45" fill="#000"/>
<circle cx="537.0" cy="206.7" r="1.45" fill="#000"/>
<circle cx="571.5" cy="208.5" r="1.45" fill="#000"/>
<circle cx="571.5" cy="212.3" r="1.45" fill="#000"/>
<circle cx="558.7" cy="212.3" r="1.45" fill="#000"/>
<circle cx="581.2" cy="211.7" r="1.45" fill="#000"/>
<circle cx="590.2" cy="213.4" r="1.45" fill="#000"/>
<circle cx="601.5" cy="210.0" r="1.45" fill="#000"/>
<circle cx="562.4" cy="217.3" r="1.45" fill="#000"/>
<circle cx="570.8" cy="217.8" r="1.45" fill="#000"/>
<circle cx="573.5" cy="219.2" r="1.45" fill="#000"/>
<circle cx="544.3" cy="228.4" r="1.45" fill="#000"/>
<circle cx="554.5" cy="232.6" r="1.45" fill="#000"/>
<circle cx="577.0" cy="230.5" r="1.45" fill="#000"/>
<circle cx="576.0" cy="234.2" r="1.45" fill="#000"/>
<circle cx="593.8" cy="231.7" r="1.45" fill="#000"/>
<circle cx="591.3" cy="234.2" r="1.45" fill="#000"/>
<circle cx="601.6" cy="234.5" r="1.45" fill="#000"/>
<circle cx="602.6" cy="237.3" r="1.45" fill="#000"/>
<circle cx="577.0" cy="244.5" r="1.45" fill="#000"/>
<circle cx="586.5" cy="242.6" r="1.45" fill="#000"/>
<circle cx="591.6" cy="245.1" r="1.45" fill="#000"/>
<circle cx="595.2" cy="243.9" r="1.45" fill="#000"/>
<circle cx="599.5" cy="243.2" r="1.45" fill="#000"/>
<circle cx="585.1" cy="253.5" r="1.45" fill="#000"/>
<circle cx="586.8" cy="254.1" r="1.45" fill="#000"/>
<circle cx="580.9" cy="258.0" r="1.45" fill="#000"/>
<circle cx="568.0" cy="255.6" r="1.45" fill="#000"/>
<circle cx="587.5" cy="262.3" r="1.45" fill="#000"/>
<circle cx="595.7" cy="269.2" r="1.45" fill="#000"/>
<circle cx="620.8" cy="286.7" r="1.45" fill="#000"/>
<circle cx="630.8" cy="285.9" r="1.45" fill="#000"/>
<circle cx="605.0" cy="294.0" r="1.45" fill="#000"/>
<line x1="589.2" y1="117.4" x2="573.7" y2="137.5" stroke="#666" stroke-width="0.5"/>
<line x1="572.9" y1="164.6" x2="575.4" y2="167.1" stroke="#666" stroke-width="0.5"/>
<line x1="560.1" y1="180.0" x2="577.7" y2="187.2" stroke="#666" stroke-width="0.5"/>
<line x1="600.4" y1="174.7" x2="603.4" y2="177.8" stroke="#666" stroke-width="0.5"/>
<line x1="586.8" y1="227.3" x2="579.1" y2="236.3" stroke="#666" stroke-width="0.5"/>
<line x1="559.6" y1="243.6" x2="574.5" y2="246.8" stroke="#666" stroke-width="0.5"/>
<line x1="568.7" y1="265.3" x2="581.9" y2="253.1" stroke="#666" stroke-width="0.5"/>
<line x1="608.5" y1="262.7" x2="614.8" y2="268.2" stroke="#666" stroke-width="0.5"/>
<circle cx="573.7" cy="137.5" r="1.5" fill="#bf3048"/>
<circle cx="575.4" cy="167.1" r="1.5" fill="#bf3048"/>
<circle cx="600.4" cy="174.7" r="1.5" fill="#bf3048"/>
<circle cx="577.7" cy="187.2" r="1.5" fill="#bf3048"/>
<circle cx="522.8" cy="218.0" r="1.5" fill="#bf3048"/>
<circle cx="579.1" cy="236.5" r="1.5" fill="#bf3048"/>
<circle cx="574.5" cy="246.8" r="1.5" fill="#bf3048"/>
<circle cx="581.9" cy="253.1" r="1.5" fill="#bf3048"/>
<circle cx="608.6" cy="262.7" r="1.5" fill="#bf3048"/>
<text x="559.80" y="114.90" font-size="8.5" text-anchor="start" font-weight="normal" fill="#111" stroke="#111" stroke-width="0.12">Pyrimidine metabolism</text>
<text x="467.10" y="159.10" font-size="8.5" text-anchor="start" font-weight="normal" fill="#111" stroke="#111" stroke-width="0.12">Pentose phosphate pathway</text>
<text x="486.90" y="183.20" font-size="8.5" text-anchor="start" font-weight="normal" fill="#111" stroke="#111" stroke-width="0.12">Purine metabolism</text>
<text x="699.00" y="186.20" font-size="8.5" text-anchor="end" font-weight="normal" fill="#111" stroke="#111" stroke-width="0.12">Glycolysis / Gluconeogenesis</text>
<text x="443.10" y="216.30" font-size="8.5" text-anchor="start" font-weight="normal" fill="#111" stroke="#111" stroke-width="0.12">Oxidative phosphorylation</text>
<text x="677.00" y="226.10" font-size="8.5" text-anchor="end" font-weight="normal" fill="#111" stroke="#111" stroke-width="0.12">Citrate cycle (TCA cycle)</text>
<text x="458.00" y="245.80" font-size="8.5" text-anchor="start" font-weight="normal" fill="#111" stroke="#111" stroke-width="0.12">Metabolism of xenobiotics</text>
<text x="458.00" y="255.60" font-size="8.5" text-anchor="start" font-weight="normal" fill="#111" stroke="#111" stroke-width="0.12">by cytochrome P450</text>
<text x="507.20" y="273.60" font-size="8.5" text-anchor="start" font-weight="normal" fill="#111" stroke="#111" stroke-width="0.12">Drug metabolism</text>
<text x="507.20" y="284.40" font-size="8.5" text-anchor="start" font-weight="normal" fill="#111" stroke="#111" stroke-width="0.12">– cytochrome P450</text>
<text x="601.80" y="277.20" font-size="8.5" text-anchor="start" font-weight="normal" fill="#111" stroke="#111" stroke-width="0.12">Fatty acid degradation</text>
<line x1="102.5" y1="641.1" x2="102.5" y2="801.5" stroke="#707070" stroke-width="0.9"/>
<line x1="102.5" y1="801.5" x2="318.8" y2="801.5" stroke="#707070" stroke-width="0.9"/>
<line x1="99.6" y1="794.10" x2="102.5" y2="794.10" stroke="#707070" stroke-width="0.9"/>
<text x="97.30" y="796.90" font-size="7.9" text-anchor="end" font-weight="normal" fill="#222" stroke="#222" stroke-width="0.12">0.00</text>
<line x1="99.6" y1="757.70" x2="102.5" y2="757.70" stroke="#707070" stroke-width="0.9"/>
<text x="97.30" y="760.50" font-size="7.9" text-anchor="end" font-weight="normal" fill="#222" stroke="#222" stroke-width="0.12">0.25</text>
<line x1="99.6" y1="721.30" x2="102.5" y2="721.30" stroke="#707070" stroke-width="0.9"/>
<text x="97.30" y="724.10" font-size="7.9" text-anchor="end" font-weight="normal" fill="#222" stroke="#222" stroke-width="0.12">0.50</text>
<line x1="99.6" y1="684.90" x2="102.5" y2="684.90" stroke="#707070" stroke-width="0.9"/>
<text x="97.30" y="687.70" font-size="7.9" text-anchor="end" font-weight="normal" fill="#222" stroke="#222" stroke-width="0.12">0.75</text>
<line x1="99.6" y1="648.50" x2="102.5" y2="648.50" stroke="#707070" stroke-width="0.9"/>
<text x="97.30" y="651.30" font-size="7.9" text-anchor="end" font-weight="normal" fill="#222" stroke="#222" stroke-width="0.12">1.00</text>
<line x1="120.00" y1="801.5" x2="120.00" y2="805.0" stroke="#707070" stroke-width="0.9"/>
<text x="120.00" y="811.80" font-size="7.9" text-anchor="middle" font-weight="normal" fill="#222" stroke="#222" stroke-width="0.12">1</text>
<line x1="150.12" y1="801.5" x2="150.12" y2="805.0" stroke="#707070" stroke-width="0.9"/>
<text x="150.12" y="811.80" font-size="7.9" text-anchor="middle" font-weight="normal" fill="#222" stroke="#222" stroke-width="0.12">2</text>
<line x1="180.24" y1="801.5" x2="180.24" y2="805.0" stroke="#707070" stroke-width="0.9"/>
<text x="180.24" y="811.80" font-size="7.9" text-anchor="middle" font-weight="normal" fill="#222" stroke="#222" stroke-width="0.12">3</text>
<line x1="210.36" y1="801.5" x2="210.36" y2="805.0" stroke="#707070" stroke-width="0.9"/>
<text x="210.36" y="811.80" font-size="7.9" text-anchor="middle" font-weight="normal" fill="#222" stroke="#222" stroke-width="0.12">4</text>
<line x1="240.48" y1="801.5" x2="240.48" y2="805.0" stroke="#707070" stroke-width="0.9"/>
<text x="240.48" y="811.80" font-size="7.9" text-anchor="middle" font-weight="normal" fill="#222" stroke="#222" stroke-width="0.12">5</text>
<line x1="270.60" y1="801.5" x2="270.60" y2="805.0" stroke="#707070" stroke-width="0.9"/>
<text x="270.60" y="811.80" font-size="7.9" text-anchor="middle" font-weight="normal" fill="#222" stroke="#222" stroke-width="0.12">6</text>
<line x1="300.72" y1="801.5" x2="300.72" y2="805.0" stroke="#707070" stroke-width="0.9"/>
<text x="300.72" y="811.80" font-size="7.9" text-anchor="middle" font-weight="normal" fill="#222" stroke="#222" stroke-width="0.12">7</text>
<text x="211.40" y="823.30" font-size="9.6" text-anchor="middle" font-weight="normal" fill="#111" stroke="#111" stroke-width="0.12">Distance</text>
<text x="77.50" y="721.60" font-size="9.6" text-anchor="middle" font-weight="normal" fill="#111" stroke="#111" stroke-width="0.12" transform="rotate(-90 77.50 721.60)">Absolute Concordance</text>
<rect x="115.55" y="706.80" width="9.20" height="89.20" fill="#000"/>
<circle cx="116.9" cy="706.9" r="1.9" fill="#000"/>
<circle cx="123.1" cy="706.7" r="1.9" fill="#000"/>
<circle cx="117.0" cy="708.7" r="1.9" fill="#000"/>
<circle cx="123.4" cy="709.4" r="1.9" fill="#000"/>
<circle cx="116.6" cy="711.8" r="1.9" fill="#000"/>
<circle cx="123.7" cy="712.6" r="1.9" fill="#000"/>
<circle cx="116.6" cy="715.6" r="1.9" fill="#000"/>
<circle cx="123.1" cy="715.0" r="1.9" fill="#000"/>
<circle cx="116.7" cy="716.6" r="1.9" fill="#000"/>
<circle cx="123.4" cy="716.7" r="1.9" fill="#000"/>
<circle cx="116.7" cy="718.5" r="1.9" fill="#000"/>
<circle cx="123.4" cy="719.2" r="1.9" fill="#000"/>
<circle cx="116.9" cy="722.5" r="1.9" fill="#000"/>
<circle cx="123.4" cy="722.5" r="1.9" fill="#000"/>
<circle cx="116.7" cy="725.4" r="1.9" fill="#000"/>
<circle cx="123.1" cy="725.1" r="1.9" fill="#000"/>
<circle cx="116.8" cy="726.9" r="1.9" fill="#000"/>
<circle cx="123.5" cy="726.6" r="1.9" fill="#000"/>
<circle cx="116.8" cy="730.7" r="1.9" fill="#000"/>
<circle cx="123.5" cy="730.9" r="1.9" fill="#000"/>
<circle cx="116.6" cy="732.6" r="1.9" fill="#000"/>
<circle cx="123.1" cy="733.0" r="1.9" fill="#000"/>
<circle cx="116.8" cy="735.6" r="1.9" fill="#000"/>
<circle cx="123.3" cy="736.7" r="1.9" fill="#000"/>
<circle cx="116.6" cy="738.0" r="1.9" fill="#000"/>
<circle cx="123.1" cy="738.7" r="1.9" fill="#000"/>
<circle cx="116.7" cy="739.4" r="1.9" fill="#000"/>
<circle cx="123.7" cy="740.5" r="1.9" fill="#000"/>
<circle cx="116.9" cy="741.9" r="1.9" fill="#000"/>
<circle cx="123.6" cy="742.3" r="1.9" fill="#000"/>
<circle cx="117.0" cy="743.1" r="1.9" fill="#000"/>
<circle cx="123.5" cy="743.3" r="1.9" fill="#000"/>
<circle cx="117.2" cy="746.3" r="1.9" fill="#000"/>
<circle cx="123.5" cy="746.4" r="1.9" fill="#000"/>
<circle cx="116.8" cy="748.3" r="1.9" fill="#000"/>
<circle cx="123.3" cy="747.1" r="1.9" fill="#000"/>
<circle cx="116.7" cy="750.5" r="1.9" fill="#000"/>
<circle cx="123.2" cy="750.6" r="1.9" fill="#000"/>
<circle cx="116.6" cy="752.3" r="1.9" fill="#000"/>
<circle cx="123.3" cy="752.6" r="1.9" fill="#000"/>
<circle cx="116.8" cy="755.5" r="1.9" fill="#000"/>
<circle cx="123.1" cy="755.5" r="1.9" fill="#000"/>
<circle cx="117.2" cy="757.6" r="1.9" fill="#000"/>
<circle cx="123.6" cy="758.7" r="1.9" fill="#000"/>
<circle cx="116.7" cy="760.5" r="1.9" fill="#000"/>
<circle cx="123.2" cy="761.7" r="1.9" fill="#000"/>
<circle cx="117.2" cy="763.5" r="1.9" fill="#000"/>
<circle cx="123.3" cy="762.8" r="1.9" fill="#000"/>
<circle cx="116.6" cy="765.4" r="1.9" fill="#000"/>
<circle cx="123.6" cy="765.0" r="1.9" fill="#000"/>
<circle cx="117.1" cy="766.8" r="1.9" fill="#000"/>
<circle cx="123.5" cy="766.1" r="1.9" fill="#000"/>
<circle cx="116.6" cy="769.0" r="1.9" fill="#000"/>
<circle cx="123.4" cy="770.0" r="1.9" fill="#000"/>
<circle cx="116.7" cy="772.7" r="1.9" fill="#000"/>
<circle cx="123.6" cy="771.2" r="1.9" fill="#000"/>
<circle cx="116.9" cy="773.3" r="1.9" fill="#000"/>
<circle cx="123.6" cy="773.8" r="1.9" fill="#000"/>
<circle cx="116.6" cy="776.3" r="1.9" fill="#000"/>
<circle cx="123.1" cy="777.3" r="1.9" fill="#000"/>
<circle cx="117.0" cy="779.3" r="1.9" fill="#000"/>
<circle cx="123.7" cy="778.5" r="1.9" fill="#000"/>
<circle cx="117.2" cy="781.1" r="1.9" fill="#000"/>
<circle cx="123.1" cy="780.1" r="1.9" fill="#000"/>
<circle cx="116.9" cy="783.8" r="1.9" fill="#000"/>
<circle cx="123.5" cy="784.2" r="1.9" fill="#000"/>
<circle cx="116.9" cy="785.5" r="1.9" fill="#000"/>
<circle cx="123.1" cy="785.5" r="1.9" fill="#000"/>
<circle cx="117.1" cy="788.6" r="1.9" fill="#000"/>
<circle cx="123.5" cy="788.2" r="1.9" fill="#000"/>
<circle cx="117.2" cy="790.8" r="1.9" fill="#000"/>
<circle cx="123.2" cy="791.5" r="1.9" fill="#000"/>
<circle cx="117.0" cy="793.3" r="1.9" fill="#000"/>
<circle cx="123.3" cy="793.6" r="1.9" fill="#000"/>
<circle cx="121.2" cy="708.3" r="1.9" fill="#000"/>
<circle cx="122.9" cy="707.9" r="1.9" fill="#000"/>
<circle cx="119.3" cy="707.9" r="1.9" fill="#000"/>
<circle cx="120.7" cy="707.5" r="1.9" fill="#000"/>
<circle cx="117.2" cy="794.1" r="1.9" fill="#000"/><circle cx="123.2" cy="794.1" r="1.9" fill="#000"/>
<circle cx="122.7" cy="689.9" r="1.9" fill="#111" fill-opacity="0.78"/>
<circle cx="117.9" cy="692.8" r="1.9" fill="#111" fill-opacity="0.78"/>
<circle cx="117.6" cy="697.0" r="1.9" fill="#111" fill-opacity="0.78"/>
<circle cx="121.0" cy="697.5" r="1.9" fill="#111" fill-opacity="0.78"/>
<circle cx="118.2" cy="700.0" r="1.9" fill="#111" fill-opacity="0.78"/>
<circle cx="121.5" cy="700.8" r="1.9" fill="#111" fill-opacity="0.78"/>
<circle cx="117.8" cy="702.5" r="1.9" fill="#111" fill-opacity="0.78"/>
<circle cx="121.2" cy="703.0" r="1.9" fill="#111" fill-opacity="0.78"/>
<circle cx="117.2" cy="700.8" r="1.9" fill="#000" fill-opacity="0.85"/>
<circle cx="116.8" cy="701.7" r="1.9" fill="#000" fill-opacity="0.85"/>
<circle cx="120.0" cy="703.3" r="1.9" fill="#000" fill-opacity="0.85"/>
<circle cx="121.6" cy="706.0" r="1.9" fill="#000" fill-opacity="0.85"/>
<circle cx="121.0" cy="704.2" r="1.9" fill="#000" fill-opacity="0.85"/>
<circle cx="118.4" cy="699.8" r="1.9" fill="#000" fill-opacity="0.85"/>
<circle cx="118.7" cy="706.8" r="1.9" fill="#000" fill-opacity="0.85"/>
<circle cx="118.0" cy="702.5" r="1.9" fill="#000" fill-opacity="0.85"/>
<circle cx="123.1" cy="706.3" r="1.9" fill="#000" fill-opacity="0.85"/>
<circle cx="119.7" cy="702.7" r="1.9" fill="#000" fill-opacity="0.85"/>
<rect x="145.85" y="745.20" width="8.90" height="50.80" fill="#000"/>
<circle cx="147.5" cy="744.9" r="1.9" fill="#000"/>
<circle cx="153.3" cy="744.7" r="1.9" fill="#000"/>
<circle cx="147.4" cy="748.2" r="1.9" fill="#000"/>
<circle cx="153.1" cy="747.3" r="1.9" fill="#000"/>
<circle cx="147.1" cy="749.4" r="1.9" fill="#000"/>
<circle cx="153.4" cy="750.6" r="1.9" fill="#000"/>
<circle cx="147.3" cy="753.7" r="1.9" fill="#000"/>
<circle cx="153.6" cy="752.5" r="1.9" fill="#000"/>
<circle cx="147.0" cy="754.8" r="1.9" fill="#000"/>
<circle cx="153.5" cy="755.5" r="1.9" fill="#000"/>
<circle cx="147.1" cy="758.2" r="1.9" fill="#000"/>
<circle cx="153.1" cy="757.6" r="1.9" fill="#000"/>
<circle cx="146.9" cy="760.0" r="1.9" fill="#000"/>
<circle cx="153.7" cy="759.7" r="1.9" fill="#000"/>
<circle cx="147.1" cy="762.4" r="1.9" fill="#000"/>
<circle cx="153.7" cy="761.3" r="1.9" fill="#000"/>
<circle cx="146.9" cy="764.8" r="1.9" fill="#000"/>
<circle cx="153.6" cy="763.7" r="1.9" fill="#000"/>
<circle cx="147.3" cy="765.8" r="1.9" fill="#000"/>
<circle cx="153.3" cy="766.2" r="1.9" fill="#000"/>
<circle cx="147.5" cy="769.1" r="1.9" fill="#000"/>
<circle cx="153.6" cy="768.8" r="1.9" fill="#000"/>
<circle cx="146.9" cy="770.7" r="1.9" fill="#000"/>
<circle cx="153.3" cy="770.2" r="1.9" fill="#000"/>
<circle cx="147.1" cy="773.1" r="1.9" fill="#000"/>
<circle cx="153.4" cy="772.9" r="1.9" fill="#000"/>
<circle cx="147.1" cy="776.0" r="1.9" fill="#000"/>
<circle cx="153.1" cy="774.9" r="1.9" fill="#000"/>
<circle cx="147.4" cy="778.1" r="1.9" fill="#000"/>
<circle cx="153.4" cy="778.8" r="1.9" fill="#000"/>
<circle cx="147.1" cy="781.8" r="1.9" fill="#000"/>
<circle cx="153.1" cy="782.2" r="1.9" fill="#000"/>
<circle cx="147.2" cy="785.1" r="1.9" fill="#000"/>
<circle cx="153.6" cy="785.2" r="1.9" fill="#000"/>
<circle cx="147.3" cy="788.1" r="1.9" fill="#000"/>
<circle cx="153.6" cy="788.4" r="1.9" fill="#000"/>
<circle cx="147.5" cy="790.9" r="1.9" fill="#000"/>
<circle cx="153.2" cy="790.6" r="1.9" fill="#000"/>
<circle cx="147.4" cy="793.7" r="1.9" fill="#000"/>
<circle cx="153.7" cy="793.8" r="1.9" fill="#000"/>
<circle cx="152.2" cy="745.9" r="1.9" fill="#000"/>
<circle cx="147.0" cy="746.4" r="1.9" fill="#000"/>
<circle cx="147.3" cy="746.4" r="1.9" fill="#000"/>
<circle cx="148.0" cy="745.7" r="1.9" fill="#000"/>
<circle cx="147.5" cy="794.1" r="1.9" fill="#000"/><circle cx="153.2" cy="794.1" r="1.9" fill="#000"/>
<circle cx="147.1" cy="689.9" r="1.9" fill="#111" fill-opacity="0.78"/>
<circle cx="151.0" cy="698.6" r="1.9" fill="#111" fill-opacity="0.78"/>
<circle cx="152.0" cy="710.4" r="1.9" fill="#111" fill-opacity="0.78"/>
<circle cx="147.6" cy="714.1" r="1.9" fill="#111" fill-opacity="0.78"/>
<circle cx="149.6" cy="717.5" r="1.9" fill="#111" fill-opacity="0.78"/>
<circle cx="153.0" cy="718.5" r="1.9" fill="#111" fill-opacity="0.78"/>
<circle cx="148.1" cy="724.3" r="1.9" fill="#111" fill-opacity="0.78"/>
<circle cx="152.0" cy="722.4" r="1.9" fill="#111" fill-opacity="0.78"/>
<circle cx="151.5" cy="727.0" r="1.9" fill="#111" fill-opacity="0.78"/>
<circle cx="152.6" cy="728.5" r="1.9" fill="#111" fill-opacity="0.78"/>
<circle cx="147.6" cy="732.1" r="1.9" fill="#111" fill-opacity="0.78"/>
<circle cx="153.0" cy="733.5" r="1.9" fill="#111" fill-opacity="0.78"/>
<circle cx="149.0" cy="735.5" r="1.9" fill="#111" fill-opacity="0.78"/>
<circle cx="150.5" cy="738.4" r="1.9" fill="#111" fill-opacity="0.78"/>
<circle cx="153.0" cy="742.3" r="1.9" fill="#111" fill-opacity="0.78"/>
<circle cx="148.0" cy="741.0" r="1.9" fill="#111" fill-opacity="0.78"/>
<circle cx="147.8" cy="728.8" r="1.9" fill="#000" fill-opacity="0.85"/>
<circle cx="150.4" cy="744.1" r="1.9" fill="#000" fill-opacity="0.85"/>
<circle cx="152.6" cy="730.9" r="1.9" fill="#000" fill-opacity="0.85"/>
<circle cx="153.4" cy="732.0" r="1.9" fill="#000" fill-opacity="0.85"/>
<circle cx="153.4" cy="737.5" r="1.9" fill="#000" fill-opacity="0.85"/>
<circle cx="148.4" cy="744.7" r="1.9" fill="#000" fill-opacity="0.85"/>
<circle cx="148.9" cy="736.6" r="1.9" fill="#000" fill-opacity="0.85"/>
<circle cx="151.3" cy="730.7" r="1.9" fill="#000" fill-opacity="0.85"/>
<circle cx="152.7" cy="736.7" r="1.9" fill="#000" fill-opacity="0.85"/>
<circle cx="149.0" cy="735.7" r="1.9" fill="#000" fill-opacity="0.85"/>
<circle cx="152.7" cy="740.1" r="1.9" fill="#000" fill-opacity="0.85"/>
<circle cx="148.3" cy="724.9" r="1.9" fill="#000" fill-opacity="0.85"/>
<circle cx="153.5" cy="726.7" r="1.9" fill="#000" fill-opacity="0.85"/>
<circle cx="150.8" cy="736.7" r="1.9" fill="#000" fill-opacity="0.85"/>
<circle cx="150.5" cy="743.4" r="1.9" fill="#000" fill-opacity="0.85"/>
<circle cx="151.0" cy="737.2" r="1.9" fill="#000" fill-opacity="0.85"/>
<circle cx="153.5" cy="745.1" r="1.9" fill="#000" fill-opacity="0.85"/>
<circle cx="149.6" cy="736.9" r="1.9" fill="#000" fill-opacity="0.85"/>
<circle cx="150.7" cy="728.4" r="1.9" fill="#000" fill-opacity="0.85"/>
<circle cx="151.6" cy="737.5" r="1.9" fill="#000" fill-opacity="0.85"/>
<circle cx="150.6" cy="744.9" r="1.9" fill="#000" fill-opacity="0.85"/>
<circle cx="153.5" cy="739.4" r="1.9" fill="#000" fill-opacity="0.85"/>
<rect x="175.95" y="742.20" width="8.90" height="53.80" fill="#000"/>
<circle cx="177.6" cy="741.8" r="1.9" fill="#000"/>
<circle cx="183.5" cy="741.6" r="1.9" fill="#000"/>
<circle cx="177.5" cy="745.1" r="1.9" fill="#000"/>
<circle cx="183.5" cy="744.2" r="1.9" fill="#000"/>
<circle cx="177.4" cy="747.1" r="1.9" fill="#000"/>
<circle cx="183.8" cy="746.8" r="1.9" fill="#000"/>
<circle cx="177.1" cy="747.6" r="1.9" fill="#000"/>
<circle cx="183.4" cy="747.8" r="1.9" fill="#000"/>
<circle cx="177.4" cy="749.6" r="1.9" fill="#000"/>
<circle cx="183.3" cy="749.6" r="1.9" fill="#000"/>
<circle cx="177.1" cy="752.1" r="1.9" fill="#000"/>
<circle cx="183.5" cy="752.5" r="1.9" fill="#000"/>
<circle cx="177.2" cy="754.9" r="1.9" fill="#000"/>
<circle cx="183.7" cy="754.3" r="1.9" fill="#000"/>
<circle cx="177.4" cy="757.5" r="1.9" fill="#000"/>
<circle cx="183.3" cy="757.6" r="1.9" fill="#000"/>
<circle cx="177.1" cy="760.8" r="1.9" fill="#000"/>
<circle cx="183.3" cy="761.0" r="1.9" fill="#000"/>
<circle cx="177.2" cy="763.2" r="1.9" fill="#000"/>
<circle cx="183.7" cy="763.3" r="1.9" fill="#000"/>
<circle cx="177.0" cy="765.1" r="1.9" fill="#000"/>
<circle cx="183.3" cy="765.1" r="1.9" fill="#000"/>
<circle cx="177.5" cy="767.2" r="1.9" fill="#000"/>
<circle cx="183.3" cy="766.7" r="1.9" fill="#000"/>
<circle cx="177.4" cy="768.8" r="1.9" fill="#000"/>
<circle cx="183.7" cy="769.8" r="1.9" fill="#000"/>
<circle cx="177.6" cy="772.0" r="1.9" fill="#000"/>
<circle cx="183.5" cy="773.0" r="1.9" fill="#000"/>
<circle cx="177.4" cy="774.5" r="1.9" fill="#000"/>
<circle cx="183.8" cy="774.4" r="1.9" fill="#000"/>
<circle cx="177.3" cy="776.7" r="1.9" fill="#000"/>
<circle cx="183.5" cy="776.1" r="1.9" fill="#000"/>
<circle cx="177.1" cy="779.1" r="1.9" fill="#000"/>
<circle cx="183.2" cy="779.2" r="1.9" fill="#000"/>
<circle cx="177.0" cy="781.0" r="1.9" fill="#000"/>
<circle cx="183.5" cy="780.7" r="1.9" fill="#000"/>
<circle cx="177.3" cy="782.4" r="1.9" fill="#000"/>
<circle cx="183.5" cy="782.6" r="1.9" fill="#000"/>
<circle cx="177.4" cy="784.6" r="1.9" fill="#000"/>
<circle cx="183.7" cy="784.0" r="1.9" fill="#000"/>
<circle cx="177.2" cy="786.3" r="1.9" fill="#000"/>
<circle cx="183.7" cy="786.8" r="1.9" fill="#000"/>
<circle cx="177.6" cy="788.9" r="1.9" fill="#000"/>
<circle cx="183.4" cy="789.0" r="1.9" fill="#000"/>
<circle cx="177.2" cy="791.2" r="1.9" fill="#000"/>
<circle cx="183.5" cy="791.8" r="1.9" fill="#000"/>
<circle cx="177.1" cy="794.6" r="1.9" fill="#000"/>
<circle cx="183.3" cy="794.4" r="1.9" fill="#000"/>
<circle cx="179.7" cy="743.5" r="1.9" fill="#000"/>
<circle cx="183.0" cy="743.2" r="1.9" fill="#000"/>
<circle cx="182.2" cy="743.3" r="1.9" fill="#000"/>
<circle cx="179.7" cy="743.3" r="1.9" fill="#000"/>
<circle cx="177.6" cy="794.1" r="1.9" fill="#000"/><circle cx="183.2" cy="794.1" r="1.9" fill="#000"/>
<circle cx="177.7" cy="706.4" r="1.9" fill="#111" fill-opacity="0.78"/>
<circle cx="178.7" cy="715.9" r="1.9" fill="#111" fill-opacity="0.78"/>
<circle cx="182.8" cy="718.0" r="1.9" fill="#111" fill-opacity="0.78"/>
<circle cx="180.6" cy="720.9" r="1.9" fill="#111" fill-opacity="0.78"/>
<circle cx="178.5" cy="722.9" r="1.9" fill="#111" fill-opacity="0.78"/>
<circle cx="180.1" cy="729.7" r="1.9" fill="#111" fill-opacity="0.78"/>
<circle cx="177.7" cy="731.6" r="1.9" fill="#111" fill-opacity="0.78"/>
<circle cx="179.7" cy="736.5" r="1.9" fill="#111" fill-opacity="0.78"/>
<circle cx="183.1" cy="738.2" r="1.9" fill="#111" fill-opacity="0.78"/>
<circle cx="177.8" cy="739.0" r="1.9" fill="#111" fill-opacity="0.78"/>
<circle cx="179.3" cy="741.8" r="1.9" fill="#000" fill-opacity="0.85"/>
<circle cx="177.0" cy="734.5" r="1.9" fill="#000" fill-opacity="0.85"/>
<circle cx="181.4" cy="737.2" r="1.9" fill="#000" fill-opacity="0.85"/>
<circle cx="178.6" cy="730.0" r="1.9" fill="#000" fill-opacity="0.85"/>
<circle cx="181.5" cy="718.5" r="1.9" fill="#000" fill-opacity="0.85"/>
<circle cx="181.5" cy="737.6" r="1.9" fill="#000" fill-opacity="0.85"/>
<circle cx="180.6" cy="731.6" r="1.9" fill="#000" fill-opacity="0.85"/>
<circle cx="183.8" cy="736.4" r="1.9" fill="#000" fill-opacity="0.85"/>
<circle cx="181.8" cy="729.4" r="1.9" fill="#000" fill-opacity="0.85"/>
<circle cx="183.7" cy="725.4" r="1.9" fill="#000" fill-opacity="0.85"/>
<circle cx="181.2" cy="742.1" r="1.9" fill="#000" fill-opacity="0.85"/>
<circle cx="178.7" cy="726.2" r="1.9" fill="#000" fill-opacity="0.85"/>
<circle cx="177.3" cy="736.2" r="1.9" fill="#000" fill-opacity="0.85"/>
<circle cx="179.5" cy="740.3" r="1.9" fill="#000" fill-opacity="0.85"/>
<circle cx="178.7" cy="741.6" r="1.9" fill="#000" fill-opacity="0.85"/>
<circle cx="180.7" cy="720.0" r="1.9" fill="#000" fill-opacity="0.85"/>
<circle cx="183.6" cy="733.4" r="1.9" fill="#000" fill-opacity="0.85"/>
<circle cx="183.8" cy="731.7" r="1.9" fill="#000" fill-opacity="0.85"/>
<rect x="206.15" y="758.20" width="8.70" height="37.80" fill="#000"/>
<circle cx="207.6" cy="758.7" r="1.9" fill="#000"/>
<circle cx="213.8" cy="758.4" r="1.9" fill="#000"/>
<circle cx="207.2" cy="761.7" r="1.9" fill="#000"/>
<circle cx="213.7" cy="761.0" r="1.9" fill="#000"/>
<circle cx="207.5" cy="763.1" r="1.9" fill="#000"/>
<circle cx="213.8" cy="763.6" r="1.9" fill="#000"/>
<circle cx="207.5" cy="765.3" r="1.9" fill="#000"/>
<circle cx="213.6" cy="764.8" r="1.9" fill="#000"/>
<circle cx="207.5" cy="767.5" r="1.9" fill="#000"/>
<circle cx="213.3" cy="767.5" r="1.9" fill="#000"/>
<circle cx="207.3" cy="768.7" r="1.9" fill="#000"/>
<circle cx="213.7" cy="769.8" r="1.9" fill="#000"/>
<circle cx="207.8" cy="772.1" r="1.9" fill="#000"/>
<circle cx="213.8" cy="772.4" r="1.9" fill="#000"/>
<circle cx="207.2" cy="775.4" r="1.9" fill="#000"/>
<circle cx="213.5" cy="774.7" r="1.9" fill="#000"/>
<circle cx="207.3" cy="778.0" r="1.9" fill="#000"/>
<circle cx="213.2" cy="778.3" r="1.9" fill="#000"/>
<circle cx="207.8" cy="780.8" r="1.9" fill="#000"/>
<circle cx="213.4" cy="779.7" r="1.9" fill="#000"/>
<circle cx="207.5" cy="782.4" r="1.9" fill="#000"/>
<circle cx="213.8" cy="782.9" r="1.9" fill="#000"/>
<circle cx="207.5" cy="784.9" r="1.9" fill="#000"/>
<circle cx="213.5" cy="784.3" r="1.9" fill="#000"/>
<circle cx="207.4" cy="787.6" r="1.9" fill="#000"/>
<circle cx="213.5" cy="788.0" r="1.9" fill="#000"/>
<circle cx="207.7" cy="789.9" r="1.9" fill="#000"/>
<circle cx="213.8" cy="791.0" r="1.9" fill="#000"/>
<circle cx="207.6" cy="793.0" r="1.9" fill="#000"/>
<circle cx="213.7" cy="793.5" r="1.9" fill="#000"/>
<circle cx="211.1" cy="759.1" r="1.9" fill="#000"/>
<circle cx="212.2" cy="758.5" r="1.9" fill="#000"/>
<circle cx="208.8" cy="759.7" r="1.9" fill="#000"/>
<circle cx="213.3" cy="759.5" r="1.9" fill="#000"/>
<circle cx="207.8" cy="794.1" r="1.9" fill="#000"/><circle cx="213.2" cy="794.1" r="1.9" fill="#000"/>
<circle cx="211.0" cy="699.4" r="1.9" fill="#111" fill-opacity="0.78"/>
<circle cx="209.4" cy="707.9" r="1.9" fill="#111" fill-opacity="0.78"/>
<circle cx="213.1" cy="712.3" r="1.9" fill="#111" fill-opacity="0.78"/>
<circle cx="207.5" cy="736.9" r="1.9" fill="#111" fill-opacity="0.78"/>
<circle cx="209.0" cy="739.4" r="1.9" fill="#111" fill-opacity="0.78"/>
<circle cx="209.0" cy="744.7" r="1.9" fill="#111" fill-opacity="0.78"/>
<circle cx="207.5" cy="747.6" r="1.9" fill="#111" fill-opacity="0.78"/>
<circle cx="210.6" cy="749.4" r="1.9" fill="#111" fill-opacity="0.78"/>
<circle cx="213.5" cy="751.3" r="1.9" fill="#111" fill-opacity="0.78"/>
<circle cx="208.5" cy="753.5" r="1.9" fill="#111" fill-opacity="0.78"/>
<circle cx="212.5" cy="754.5" r="1.9" fill="#111" fill-opacity="0.78"/>
<circle cx="207.6" cy="758.1" r="1.9" fill="#000" fill-opacity="0.85"/>
<circle cx="210.0" cy="755.7" r="1.9" fill="#000" fill-opacity="0.85"/>
<circle cx="207.8" cy="748.8" r="1.9" fill="#000" fill-opacity="0.85"/>
<circle cx="207.6" cy="750.7" r="1.9" fill="#000" fill-opacity="0.85"/>
<circle cx="211.7" cy="757.8" r="1.9" fill="#000" fill-opacity="0.85"/>
<circle cx="211.4" cy="750.5" r="1.9" fill="#000" fill-opacity="0.85"/>
<circle cx="210.4" cy="754.1" r="1.9" fill="#000" fill-opacity="0.85"/>
<circle cx="209.5" cy="756.5" r="1.9" fill="#000" fill-opacity="0.85"/>
<circle cx="212.8" cy="745.7" r="1.9" fill="#000" fill-opacity="0.85"/>
<circle cx="208.0" cy="757.9" r="1.9" fill="#000" fill-opacity="0.85"/>
<circle cx="211.3" cy="743.9" r="1.9" fill="#000" fill-opacity="0.85"/>
<circle cx="208.6" cy="745.1" r="1.9" fill="#000" fill-opacity="0.85"/>
<circle cx="208.9" cy="753.1" r="1.9" fill="#000" fill-opacity="0.85"/>
<circle cx="209.6" cy="743.9" r="1.9" fill="#000" fill-opacity="0.85"/>
<rect x="236.45" y="756.90" width="8.40" height="39.10" fill="#000"/>
<circle cx="237.9" cy="757.7" r="1.9" fill="#000"/>
<circle cx="243.6" cy="757.0" r="1.9" fill="#000"/>
<circle cx="238.1" cy="759.6" r="1.9" fill="#000"/>
<circle cx="243.6" cy="759.0" r="1.9" fill="#000"/>
<circle cx="237.5" cy="762.0" r="1.9" fill="#000"/>
<circle cx="243.5" cy="762.7" r="1.9" fill="#000"/>
<circle cx="237.7" cy="765.8" r="1.9" fill="#000"/>
<circle cx="243.8" cy="764.9" r="1.9" fill="#000"/>
<circle cx="237.5" cy="767.7" r="1.9" fill="#000"/>
<circle cx="243.3" cy="768.4" r="1.9" fill="#000"/>
<circle cx="237.6" cy="769.9" r="1.9" fill="#000"/>
<circle cx="243.3" cy="769.9" r="1.9" fill="#000"/>
<circle cx="237.9" cy="772.0" r="1.9" fill="#000"/>
<circle cx="243.2" cy="772.6" r="1.9" fill="#000"/>
<circle cx="237.8" cy="775.4" r="1.9" fill="#000"/>
<circle cx="243.6" cy="774.7" r="1.9" fill="#000"/>
<circle cx="238.1" cy="777.8" r="1.9" fill="#000"/>
<circle cx="243.7" cy="777.0" r="1.9" fill="#000"/>
<circle cx="237.7" cy="779.2" r="1.9" fill="#000"/>
<circle cx="243.6" cy="778.9" r="1.9" fill="#000"/>
<circle cx="238.0" cy="781.9" r="1.9" fill="#000"/>
<circle cx="243.3" cy="782.0" r="1.9" fill="#000"/>
<circle cx="238.0" cy="784.4" r="1.9" fill="#000"/>
<circle cx="243.7" cy="783.0" r="1.9" fill="#000"/>
<circle cx="237.8" cy="786.3" r="1.9" fill="#000"/>
<circle cx="243.2" cy="786.4" r="1.9" fill="#000"/>
<circle cx="237.5" cy="789.1" r="1.9" fill="#000"/>
<circle cx="243.3" cy="788.4" r="1.9" fill="#000"/>
<circle cx="238.0" cy="791.4" r="1.9" fill="#000"/>
<circle cx="243.8" cy="791.0" r="1.9" fill="#000"/>
<circle cx="238.0" cy="792.9" r="1.9" fill="#000"/>
<circle cx="243.7" cy="792.2" r="1.9" fill="#000"/>
<circle cx="240.8" cy="758.0" r="1.9" fill="#000"/>
<circle cx="240.0" cy="757.4" r="1.9" fill="#000"/>
<circle cx="243.6" cy="757.9" r="1.9" fill="#000"/>
<circle cx="240.6" cy="757.7" r="1.9" fill="#000"/>
<circle cx="238.1" cy="794.1" r="1.9" fill="#000"/><circle cx="243.2" cy="794.1" r="1.9" fill="#000"/>
<circle cx="242.3" cy="731.3" r="1.9" fill="#111" fill-opacity="0.78"/>
<circle cx="242.6" cy="732.3" r="1.9" fill="#111" fill-opacity="0.78"/>
<circle cx="238.6" cy="743.8" r="1.9" fill="#111" fill-opacity="0.78"/>
<circle cx="241.3" cy="745.1" r="1.9" fill="#111" fill-opacity="0.78"/>
<circle cx="241.9" cy="748.2" r="1.9" fill="#111" fill-opacity="0.78"/>
<circle cx="243.2" cy="753.2" r="1.9" fill="#111" fill-opacity="0.78"/>
<circle cx="239.0" cy="752.0" r="1.9" fill="#111" fill-opacity="0.78"/>
<circle cx="242.0" cy="743.9" r="1.9" fill="#000" fill-opacity="0.85"/>
<circle cx="240.1" cy="737.8" r="1.9" fill="#000" fill-opacity="0.85"/>
<circle cx="241.7" cy="740.7" r="1.9" fill="#000" fill-opacity="0.85"/>
<circle cx="242.6" cy="739.8" r="1.9" fill="#000" fill-opacity="0.85"/>
<circle cx="243.1" cy="740.5" r="1.9" fill="#000" fill-opacity="0.85"/>
<circle cx="241.5" cy="736.4" r="1.9" fill="#000" fill-opacity="0.85"/>
<circle cx="242.0" cy="749.1" r="1.9" fill="#000" fill-opacity="0.85"/>
<circle cx="240.1" cy="741.4" r="1.9" fill="#000" fill-opacity="0.85"/>
<circle cx="238.4" cy="751.4" r="1.9" fill="#000" fill-opacity="0.85"/>
<circle cx="243.8" cy="743.3" r="1.9" fill="#000" fill-opacity="0.85"/>
<circle cx="238.5" cy="752.3" r="1.9" fill="#000" fill-opacity="0.85"/>
<circle cx="240.2" cy="755.2" r="1.9" fill="#000" fill-opacity="0.85"/>
<circle cx="243.7" cy="753.8" r="1.9" fill="#000" fill-opacity="0.85"/>
<circle cx="239.4" cy="756.7" r="1.9" fill="#000" fill-opacity="0.85"/>
<circle cx="241.6" cy="756.2" r="1.9" fill="#000" fill-opacity="0.85"/>
<circle cx="238.6" cy="742.2" r="1.9" fill="#000" fill-opacity="0.85"/>
<rect x="266.45" y="773.30" width="8.50" height="22.70" fill="#000"/>
<circle cx="267.5" cy="773.2" r="1.9" fill="#000"/>
<circle cx="273.5" cy="774.0" r="1.9" fill="#000"/>
<circle cx="267.5" cy="774.5" r="1.9" fill="#000"/>
<circle cx="273.8" cy="774.5" r="1.9" fill="#000"/>
<circle cx="267.9" cy="777.3" r="1.9" fill="#000"/>
<circle cx="273.8" cy="777.4" r="1.9" fill="#000"/>
<circle cx="268.0" cy="779.3" r="1.9" fill="#000"/>
<circle cx="273.6" cy="780.1" r="1.9" fill="#000"/>
<circle cx="267.6" cy="782.6" r="1.9" fill="#000"/>
<circle cx="273.3" cy="781.7" r="1.9" fill="#000"/>
<circle cx="268.1" cy="784.4" r="1.9" fill="#000"/>
<circle cx="273.8" cy="783.7" r="1.9" fill="#000"/>
<circle cx="268.0" cy="787.4" r="1.9" fill="#000"/>
<circle cx="273.6" cy="787.6" r="1.9" fill="#000"/>
<circle cx="268.1" cy="789.8" r="1.9" fill="#000"/>
<circle cx="273.8" cy="788.8" r="1.9" fill="#000"/>
<circle cx="267.7" cy="792.4" r="1.9" fill="#000"/>
<circle cx="273.5" cy="792.1" r="1.9" fill="#000"/>
<circle cx="267.6" cy="793.5" r="1.9" fill="#000"/>
<circle cx="273.8" cy="794.4" r="1.9" fill="#000"/>
<circle cx="271.6" cy="774.8" r="1.9" fill="#000"/>
<circle cx="269.2" cy="774.1" r="1.9" fill="#000"/>
<circle cx="268.4" cy="774.5" r="1.9" fill="#000"/>
<circle cx="267.5" cy="774.5" r="1.9" fill="#000"/>
<circle cx="268.1" cy="794.1" r="1.9" fill="#000"/><circle cx="273.3" cy="794.1" r="1.9" fill="#000"/>
<circle cx="270.7" cy="754.7" r="1.9" fill="#111" fill-opacity="0.78"/>
<circle cx="272.0" cy="759.5" r="1.9" fill="#111" fill-opacity="0.78"/>
<circle cx="268.8" cy="763.2" r="1.9" fill="#111" fill-opacity="0.78"/>
<circle cx="272.0" cy="766.6" r="1.9" fill="#111" fill-opacity="0.78"/>
<circle cx="273.2" cy="770.7" r="1.9" fill="#111" fill-opacity="0.78"/>
<circle cx="268.5" cy="769.5" r="1.9" fill="#111" fill-opacity="0.78"/>
<circle cx="272.8" cy="764.1" r="1.9" fill="#000" fill-opacity="0.85"/>
<circle cx="269.2" cy="773.1" r="1.9" fill="#000" fill-opacity="0.85"/>
<circle cx="268.1" cy="766.3" r="1.9" fill="#000" fill-opacity="0.85"/>
<circle cx="270.5" cy="769.6" r="1.9" fill="#000" fill-opacity="0.85"/>
<circle cx="271.3" cy="762.1" r="1.9" fill="#000" fill-opacity="0.85"/>
<circle cx="269.4" cy="763.9" r="1.9" fill="#000" fill-opacity="0.85"/>
<circle cx="270.2" cy="765.1" r="1.9" fill="#000" fill-opacity="0.85"/>
<circle cx="268.0" cy="762.9" r="1.9" fill="#000" fill-opacity="0.85"/>
<circle cx="302.1" cy="770.8" r="1.9" fill="#111" fill-opacity="0.78"/>
<circle cx="300.7" cy="793.9" r="1.9" fill="#111" fill-opacity="0.78"/>
<circle cx="297.5" cy="778.3" r="1.9" fill="#111" fill-opacity="0.78"/>
<circle cx="300.5" cy="778.6" r="1.9" fill="#111" fill-opacity="0.78"/>
<circle cx="303.5" cy="778.2" r="1.9" fill="#111" fill-opacity="0.78"/>
<circle cx="305.5" cy="778.8" r="1.9" fill="#111" fill-opacity="0.78"/>
<line x1="120.35" y1="707.9" x2="120.35" y2="794" stroke="#3a3a3a" stroke-width="0.45"/>
<rect x="114.1" y="747.2" width="12.5" height="35.1" fill="#fff" stroke="#555" stroke-width="0.6"/>
<line x1="114.1" y1="770.6" x2="126.6" y2="770.6" stroke="#444" stroke-width="0.9"/>
<line x1="150.45" y1="746.3" x2="150.45" y2="794" stroke="#3a3a3a" stroke-width="0.45"/>
<rect x="144.1" y="776.0" width="12.7" height="13.1" fill="#fff" stroke="#555" stroke-width="0.6"/>
<line x1="144.1" y1="783.2" x2="156.8" y2="783.2" stroke="#444" stroke-width="0.9"/>
<line x1="180.45" y1="743.3" x2="180.45" y2="794" stroke="#3a3a3a" stroke-width="0.45"/>
<rect x="174.3" y="777.4" width="12.3" height="12.2" fill="#fff" stroke="#555" stroke-width="0.6"/>
<line x1="174.3" y1="784.4" x2="186.6" y2="784.4" stroke="#444" stroke-width="0.9"/>
<line x1="210.45" y1="759.3" x2="210.45" y2="794" stroke="#3a3a3a" stroke-width="0.45"/>
<rect x="204.1" y="777.3" width="12.7" height="12.1" fill="#fff" stroke="#555" stroke-width="0.6"/>
<line x1="204.1" y1="784.3" x2="216.8" y2="784.3" stroke="#444" stroke-width="0.9"/>
<line x1="240.45" y1="758.0" x2="240.45" y2="794" stroke="#3a3a3a" stroke-width="0.45"/>
<rect x="234.3" y="778.6" width="12.3" height="11.4" fill="#fff" stroke="#555" stroke-width="0.6"/>
<line x1="234.3" y1="784.5" x2="246.6" y2="784.5" stroke="#444" stroke-width="0.9"/>
<line x1="270.65" y1="774.4" x2="270.65" y2="794" stroke="#3a3a3a" stroke-width="0.45"/>
<rect x="264.5" y="778.6" width="12.3" height="11.2" fill="#fff" stroke="#555" stroke-width="0.6"/>
<line x1="264.5" y1="784.5" x2="276.8" y2="784.5" stroke="#444" stroke-width="0.9"/>
<line x1="300.75" y1="774" x2="300.75" y2="779.1" stroke="#555" stroke-width="0.6"/>
<rect x="294.5" y="779.1" width="12.5" height="11.2" fill="#fff" stroke="#555" stroke-width="0.6"/>
<line x1="294.5" y1="779.6" x2="307.0" y2="779.6" stroke="#444" stroke-width="0.9"/>
<line x1="431.7" y1="608.2" x2="431.7" y2="799.2" stroke="#222" stroke-width="0.9"/>
<line x1="431.7" y1="799.2" x2="719" y2="799.2" stroke="#222" stroke-width="0.9"/>
<line x1="429.2" y1="790.60" x2="431.7" y2="790.60" stroke="#111" stroke-width="1.0"/>
<text x="427.30" y="793.10" font-size="7.1" text-anchor="end" font-weight="normal" fill="#111" stroke="#111" stroke-width="0.12">0</text>
<line x1="429.2" y1="746.93" x2="431.7" y2="746.93" stroke="#111" stroke-width="1.0"/>
<text x="427.30" y="749.43" font-size="7.1" text-anchor="end" font-weight="normal" fill="#111" stroke="#111" stroke-width="0.12">2000</text>
<line x1="429.2" y1="703.25" x2="431.7" y2="703.25" stroke="#111" stroke-width="1.0"/>
<text x="427.30" y="705.75" font-size="7.1" text-anchor="end" font-weight="normal" fill="#111" stroke="#111" stroke-width="0.12">4000</text>
<line x1="429.2" y1="659.58" x2="431.7" y2="659.58" stroke="#111" stroke-width="1.0"/>
<text x="427.30" y="662.08" font-size="7.1" text-anchor="end" font-weight="normal" fill="#111" stroke="#111" stroke-width="0.12">6000</text>
<line x1="429.2" y1="615.90" x2="431.7" y2="615.90" stroke="#111" stroke-width="1.0"/>
<text x="427.30" y="618.40" font-size="7.1" text-anchor="end" font-weight="normal" fill="#111" stroke="#111" stroke-width="0.12">8000</text>
<line x1="448.40" y1="799.2" x2="448.40" y2="802.0" stroke="#222" stroke-width="0.8"/>
<text x="447.70" y="808.60" font-size="7.4" text-anchor="middle" font-weight="normal" fill="#111" stroke="#111" stroke-width="0.12">0</text>
<rect x="435.75" y="775.8" width="25.3" height="14.80" fill="#231f20"/>
<line x1="476.66" y1="799.2" x2="476.66" y2="802.0" stroke="#222" stroke-width="0.8"/>
<text x="475.96" y="808.60" font-size="7.4" text-anchor="middle" font-weight="normal" fill="#111" stroke="#111" stroke-width="0.12">1</text>
<rect x="464.01" y="699.0" width="25.3" height="91.60" fill="#231f20"/>
<line x1="504.92" y1="799.2" x2="504.92" y2="802.0" stroke="#222" stroke-width="0.8"/>
<text x="504.22" y="808.60" font-size="7.4" text-anchor="middle" font-weight="normal" fill="#111" stroke="#111" stroke-width="0.12">2</text>
<rect x="492.27" y="617.1" width="25.3" height="173.50" fill="#231f20"/>
<line x1="533.18" y1="799.2" x2="533.18" y2="802.0" stroke="#222" stroke-width="0.8"/>
<text x="532.48" y="808.60" font-size="7.4" text-anchor="middle" font-weight="normal" fill="#111" stroke="#111" stroke-width="0.12">3</text>
<rect x="520.53" y="653.3" width="25.3" height="137.30" fill="#231f20"/>
<line x1="561.44" y1="799.2" x2="561.44" y2="802.0" stroke="#222" stroke-width="0.8"/>
<text x="560.74" y="808.60" font-size="7.4" text-anchor="middle" font-weight="normal" fill="#111" stroke="#111" stroke-width="0.12">4</text>
<rect x="548.79" y="735.4" width="25.3" height="55.20" fill="#231f20"/>
<line x1="589.70" y1="799.2" x2="589.70" y2="802.0" stroke="#222" stroke-width="0.8"/>
<text x="589.00" y="808.60" font-size="7.4" text-anchor="middle" font-weight="normal" fill="#111" stroke="#111" stroke-width="0.12">5</text>
<rect x="577.05" y="775.6" width="25.3" height="15.00" fill="#231f20"/>
<line x1="617.96" y1="799.2" x2="617.96" y2="802.0" stroke="#222" stroke-width="0.8"/>
<text x="617.26" y="808.60" font-size="7.4" text-anchor="middle" font-weight="normal" fill="#111" stroke="#111" stroke-width="0.12">6</text>
<rect x="605.31" y="786.4" width="25.3" height="4.20" fill="#231f20"/>
<line x1="646.22" y1="799.2" x2="646.22" y2="802.0" stroke="#222" stroke-width="0.8"/>
<text x="645.52" y="808.60" font-size="7.4" text-anchor="middle" font-weight="normal" fill="#111" stroke="#111" stroke-width="0.12">7</text>
<rect x="633.57" y="788.5" width="25.3" height="2.10" fill="#231f20"/>
<line x1="674.48" y1="799.2" x2="674.48" y2="802.0" stroke="#222" stroke-width="0.8"/>
<text x="673.78" y="808.60" font-size="7.4" text-anchor="middle" font-weight="normal" fill="#111" stroke="#111" stroke-width="0.12">8</text>
<rect x="661.83" y="789.8" width="25.3" height="0.80" fill="#231f20"/>
<line x1="702.74" y1="799.2" x2="702.74" y2="802.0" stroke="#222" stroke-width="0.8"/>
<text x="702.04" y="808.60" font-size="7.4" text-anchor="middle" font-weight="normal" fill="#111" stroke="#111" stroke-width="0.12">9</text>
<rect x="690.09" y="790.2" width="25.3" height="0.40" fill="#bbb"/>
<text x="575.10" y="820.90" font-size="8.6" text-anchor="middle" font-weight="normal" fill="#111" stroke="#111" stroke-width="0.12">Number of Datasets</text>
<text x="406.30" y="703.70" font-size="8.6" text-anchor="middle" font-weight="normal" fill="#111" stroke="#111" stroke-width="0.12" transform="rotate(-90 406.30 703.70)">Number of GMIs</text>
</svg></body></html>
